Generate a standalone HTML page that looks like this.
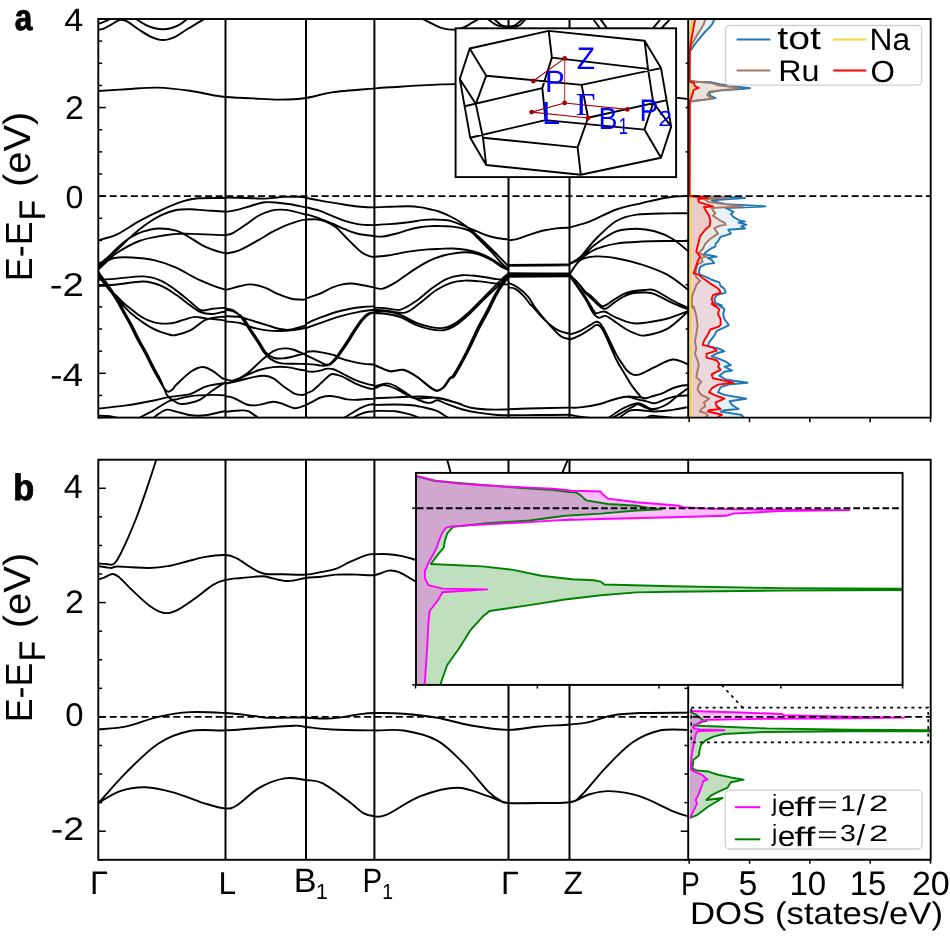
<!DOCTYPE html>
<html><head><meta charset="utf-8"><style>
html,body{margin:0;padding:0;background:#fff;}
svg{display:block;will-change:transform;}
text{text-rendering:geometricPrecision;}
</style></head><body>
<svg width="950" height="936" viewBox="0 0 950 936">
<defs>
<clipPath id="clipA"><rect x="98.3" y="19.0" width="589.9000000000001" height="398.6"/></clipPath>
<clipPath id="clipB"><rect x="98.3" y="459.7" width="589.9000000000001" height="400.09999999999997"/></clipPath>
<clipPath id="clipDA"><rect x="689.0" y="19.0" width="241.7" height="398.6"/></clipPath>
<clipPath id="clipDB"><rect x="689.0" y="459.7" width="241.7" height="400.09999999999997"/></clipPath>
</defs>
<rect width="950" height="936" fill="#fff"/>
<g id="bands_a" clip-path="url(#clipA)"><defs><clipPath id="as0"><rect x="98.00" y="19.0" width="127.80" height="398.6"/></clipPath><clipPath id="as1"><rect x="225.20" y="19.0" width="81.10" height="398.6"/></clipPath><clipPath id="as2"><rect x="305.70" y="19.0" width="69.00" height="398.6"/></clipPath><clipPath id="as3"><rect x="374.10" y="19.0" width="134.70" height="398.6"/></clipPath><clipPath id="as4"><rect x="508.20" y="19.0" width="61.60" height="398.6"/></clipPath><clipPath id="as5"><rect x="569.20" y="19.0" width="119.30" height="398.6"/></clipPath></defs><path fill="none" stroke="#000" stroke-width="1.9" d="M97.95,24.14 C98.93,23.77 101.88,22.76 103.84,21.93 C105.81,21.09 108.75,19.59 109.74,19.13 M97.95,29.74 C98.93,29.54 101.63,29.42 103.84,28.56 C106.05,27.70 109.00,25.81 111.21,24.58 C113.42,23.35 115.43,21.98 117.10,21.19 C118.77,20.40 119.51,19.79 121.23,19.86 C122.95,19.94 124.42,19.99 127.42,21.63 C130.42,23.28 135.28,27.21 139.21,29.74 C143.14,32.27 147.07,35.09 151.00,36.81 C154.93,38.53 158.86,40.00 162.79,40.05 C166.72,40.10 170.65,38.82 174.58,37.10 C178.51,35.39 182.43,32.14 186.36,29.74 C190.29,27.33 195.08,24.50 198.15,22.66 C201.22,20.82 203.68,19.35 204.78,18.68 M134.79,18.24 C136.51,19.30 141.91,22.96 145.10,24.58 C148.30,26.20 151.00,27.18 153.94,27.97 C156.89,28.75 159.84,29.29 162.79,29.29 C165.73,29.29 168.68,28.83 171.63,27.97 C174.58,27.11 177.77,25.76 180.47,24.14 C183.17,22.52 186.61,19.22 187.84,18.24 M96.58,91.10 C101.58,90.79 116.32,89.79 126.58,89.21 C136.84,88.63 147.63,87.37 158.16,87.63 C168.68,87.89 179.21,89.32 189.74,90.79 C200.26,92.26 210.79,95.21 221.31,96.47 C231.84,97.74 243.16,97.84 252.89,98.37 C262.63,98.89 270.89,99.68 279.73,99.63 C288.58,99.58 297.26,99.26 305.95,98.05 C314.63,96.84 320.68,93.95 331.84,92.37 C343.00,90.79 362.37,89.47 372.89,88.58 C383.42,87.68 386.05,87.58 395.00,87.00 C403.94,86.42 416.05,85.58 426.58,85.10 C437.10,84.63 447.63,84.32 458.15,84.16 C468.68,84.00 471.31,83.68 489.73,84.16 C508.15,84.63 539.73,84.95 568.68,87.00 C597.63,89.05 643.36,94.47 663.42,96.47 C683.47,98.47 684.73,98.58 688.99,99.00 M417.68,16.47 C418.67,16.96 420.39,17.82 423.58,19.42 C426.77,21.02 433.40,24.53 436.84,26.05 C440.28,27.57 441.75,27.97 444.21,28.56 C446.66,29.15 449.12,29.52 451.58,29.59 C454.03,29.66 456.73,29.47 458.94,29.00 C461.16,28.53 462.63,27.85 464.84,26.79 C467.05,25.73 470.00,23.89 472.21,22.66 C474.42,21.43 476.38,20.33 478.10,19.42 C479.82,18.51 481.79,17.58 482.52,17.21 M484.00,16.47 C484.73,16.96 486.21,17.95 488.42,19.42 C490.63,20.89 493.92,24.04 497.26,25.32 C500.60,26.59 504.77,27.08 508.46,27.08 C512.14,27.08 516.56,26.59 519.36,25.32 C522.16,24.04 523.54,20.89 525.26,19.42 C526.98,17.95 528.94,16.96 529.68,16.47 M489.89,16.47 C490.63,16.96 492.35,17.95 494.31,19.42 C496.28,20.89 499.32,24.14 501.68,25.32 C504.04,26.49 506.25,26.49 508.46,26.49 C510.67,26.49 512.63,26.49 514.94,25.32 C517.25,24.14 520.35,20.89 522.31,19.42 C524.28,17.95 525.99,16.96 526.73,16.47 M590.53,15.00 C591.06,15.79 592.24,17.68 593.69,19.74 C595.13,21.79 597.63,24.95 599.21,27.32 C600.79,29.68 602.50,32.84 603.16,33.95 M597.63,15.00 C598.16,15.79 599.35,17.68 600.79,19.74 C602.24,21.79 604.74,24.95 606.32,27.32 C607.90,29.68 609.61,32.84 610.27,33.95 M663.16,15.00 C662.64,15.79 661.59,17.68 660.01,19.74 C658.43,21.79 655.53,24.95 653.69,27.32 C651.85,29.68 649.74,32.84 648.95,33.95 M672.64,15.00 C672.11,15.79 671.19,17.68 669.48,19.74 C667.77,21.79 664.35,24.95 662.37,27.32 C660.40,29.68 658.43,32.84 657.64,33.95"/><path clip-path="url(#as0)" fill="none" stroke="#000" stroke-width="1.9" d="M97.95,240.26 C101.14,239.28 110.23,237.56 117.10,234.37 C123.98,231.17 131.84,225.16 139.21,221.10 C146.58,217.05 153.94,213.37 161.31,210.05 C168.68,206.74 177.28,203.17 183.42,201.21 C189.56,199.25 191.15,198.80 198.15,198.26 C205.15,197.72 219.28,198.02 225.42,197.97 C231.56,197.92 233.40,197.97 234.99,197.97 M98.24,265.31 C100.16,263.72 106.59,258.31 109.74,255.73 C112.88,253.16 113.42,253.16 117.10,249.84 C120.79,246.52 126.93,240.14 131.84,235.84 C136.75,231.54 141.66,227.49 146.58,224.05 C151.49,220.61 156.40,217.54 161.31,215.21 C166.23,212.88 171.14,211.03 176.05,210.05 C180.96,209.07 185.87,209.27 190.79,209.31 C195.70,209.36 199.75,209.98 205.52,210.35 C211.29,210.71 220.50,211.57 225.42,211.53 C230.33,211.48 233.40,210.30 234.99,210.05 M98.24,266.05 C100.16,264.28 106.10,258.88 109.74,255.44 C113.37,252.00 116.37,248.56 120.05,245.42 C123.74,242.27 127.91,238.91 131.84,236.58 C135.77,234.24 139.21,232.77 143.63,231.42 C148.05,230.07 152.96,228.59 158.37,228.47 C163.77,228.35 170.65,229.09 176.05,230.68 C181.45,232.28 185.87,235.35 190.79,238.05 C195.70,240.75 199.75,244.39 205.52,246.89 C211.29,249.40 220.50,252.47 225.42,253.08 C230.33,253.70 233.40,250.99 234.99,250.58 M98.24,267.52 C101.39,265.07 110.28,257.21 117.10,252.79 C123.93,248.37 131.84,243.82 139.21,241.00 C146.58,238.17 153.94,237.07 161.31,235.84 C168.68,234.61 172.73,233.75 183.42,233.63 C194.10,233.51 216.82,235.35 225.42,235.10 C234.01,234.86 233.40,232.65 234.99,232.16 M98.24,269.73 C99.67,268.38 104.14,263.59 106.79,261.63 C109.44,259.66 109.98,258.63 114.16,257.94 C118.33,257.26 125.21,257.13 131.84,257.50 C138.47,257.87 146.58,258.48 153.94,260.15 C161.31,261.82 168.68,264.33 176.05,267.52 C183.42,270.72 189.93,275.63 198.15,279.31 C206.38,283.00 219.28,288.15 225.42,289.63 C231.56,291.10 233.40,288.40 234.99,288.15 M98.24,279.76 C101.39,279.56 109.54,279.14 117.10,278.58 C124.67,278.01 136.26,276.00 143.63,276.37 C151.00,276.74 155.91,278.46 161.31,280.79 C166.72,283.12 171.14,286.81 176.05,290.37 C180.96,293.93 186.61,298.84 190.79,302.16 C194.96,305.47 197.42,309.16 201.10,310.26 C204.78,311.37 208.84,309.16 212.89,308.79 C216.94,308.42 221.73,307.44 225.42,308.05 C229.10,308.66 233.40,311.73 234.99,312.47 M98.24,285.95 C101.39,285.70 109.54,285.21 117.10,284.47 C124.67,283.74 136.26,281.28 143.63,281.53 C151.00,281.77 155.91,283.74 161.31,285.95 C166.72,288.16 171.14,291.47 176.05,294.79 C180.96,298.10 186.61,302.89 190.79,305.84 C194.96,308.79 197.42,311.12 201.10,312.47 C204.78,313.82 208.84,314.07 212.89,313.94 C216.94,313.82 221.73,311.49 225.42,311.73 C229.10,311.98 233.40,314.80 234.99,315.42 M98.30,273.40 C100.15,275.97 106.35,285.03 109.40,288.80 C112.45,292.57 114.20,293.60 116.60,296.00 C119.00,298.40 121.40,301.03 123.80,303.20 C126.20,305.37 128.60,307.08 131.00,309.00 C133.40,310.92 135.80,313.03 138.20,314.70 C140.60,316.37 143.00,317.80 145.40,319.00 C147.80,320.20 150.20,321.17 152.60,321.90 C155.00,322.63 157.40,323.12 159.80,323.40 C162.20,323.68 164.47,323.73 167.00,323.60 C169.53,323.47 172.26,323.23 175.00,322.60 C177.74,321.97 180.05,320.79 183.42,319.84 C186.79,318.89 191.52,317.14 195.21,316.89 C198.89,316.65 200.49,317.75 205.52,318.37 C210.56,318.98 220.50,319.84 225.42,320.58 C230.33,321.31 233.40,322.42 234.99,322.79 M98.30,275.80 C100.15,278.20 106.35,286.48 109.40,290.20 C112.45,293.92 114.20,295.45 116.60,298.10 C119.00,300.75 121.40,303.57 123.80,306.10 C126.20,308.63 128.60,311.15 131.00,313.30 C133.40,315.45 135.80,317.20 138.20,319.00 C140.60,320.80 143.00,322.53 145.40,324.10 C147.80,325.67 150.20,327.15 152.60,328.40 C155.00,329.65 157.40,330.68 159.80,331.60 C162.20,332.52 164.47,333.30 167.00,333.90 C169.53,334.50 171.04,335.82 175.00,335.20 C178.96,334.58 185.70,332.71 190.79,330.15 C195.87,327.59 200.61,322.05 205.52,319.84 C210.43,317.63 216.94,317.38 220.26,316.89 C223.57,316.40 222.96,316.89 225.42,316.89 C227.87,316.89 233.40,316.89 234.99,316.89 M98.30,271.50 C99.85,274.02 104.63,281.92 107.60,286.60 C110.57,291.28 113.48,295.27 116.10,299.60 C118.72,303.93 120.90,308.28 123.30,312.60 C125.70,316.92 128.10,320.93 130.50,325.50 C132.90,330.07 135.30,335.43 137.70,340.00 C140.10,344.57 142.50,348.35 144.90,352.90 C147.30,357.45 149.70,362.73 152.10,367.30 C154.50,371.87 157.45,377.05 159.30,380.30 C161.15,383.55 162.10,385.12 163.20,386.80 C164.30,388.48 165.02,389.57 165.90,390.40 C166.78,391.23 167.62,391.77 168.50,391.80 C169.38,391.83 170.32,391.23 171.20,390.60 C172.08,389.97 172.99,388.92 173.80,388.00 C174.61,387.08 173.22,387.75 176.05,385.05 C178.88,382.35 186.36,374.79 190.79,371.79 C195.21,368.79 198.89,367.20 202.57,367.07 C206.26,366.95 209.21,369.04 212.89,371.05 C216.57,373.07 220.99,378.05 224.68,379.16 C228.36,380.26 233.27,377.93 234.99,377.68 M98.30,272.30 C100.12,274.68 105.97,282.05 109.20,286.60 C112.43,291.15 115.08,295.27 117.70,299.60 C120.32,303.93 122.50,308.28 124.90,312.60 C127.30,316.92 129.70,320.93 132.10,325.50 C134.50,330.07 136.90,335.43 139.30,340.00 C141.70,344.57 144.10,348.35 146.50,352.90 C148.90,357.45 151.33,362.73 153.70,367.30 C156.07,371.87 158.45,375.62 160.70,380.30 C162.95,384.98 164.89,391.87 167.21,395.37 C169.52,398.86 172.37,399.84 174.58,401.26 C176.79,402.69 177.77,403.67 180.47,403.91 C183.17,404.16 187.35,403.55 190.79,402.74 C194.22,401.92 197.42,401.14 201.10,399.05 C204.78,396.96 208.96,392.91 212.89,390.21 C216.82,387.51 220.99,384.68 224.68,382.84 C228.36,381.00 233.27,379.77 234.99,379.16 M98.24,408.63 C102.61,408.14 115.19,407.03 124.47,405.68 C133.76,404.33 147.07,401.88 153.94,400.52 C160.82,399.17 162.05,398.31 165.73,397.58 C169.42,396.84 171.87,396.72 176.05,396.10 C180.22,395.49 185.87,395.49 190.79,393.89 C195.70,392.30 200.61,388.24 205.52,386.53 C210.43,384.81 215.35,384.44 220.26,383.58 C225.17,382.72 232.54,381.74 234.99,381.37 M139.21,417.77 C141.66,416.49 149.03,412.85 153.94,410.10 C158.86,407.35 164.75,403.10 168.68,401.26 C172.61,399.42 175.07,399.66 177.52,399.05 C179.98,398.44 179.98,398.19 183.42,397.58 C186.86,396.96 191.28,395.74 198.15,395.37 C205.03,395.00 218.54,394.63 224.68,395.37 C230.82,396.10 233.27,399.05 234.99,399.79 M153.21,417.77 C155.30,416.44 161.93,410.84 165.73,409.81 C169.54,408.78 171.87,410.67 176.05,411.58 C180.22,412.49 185.87,414.65 190.79,415.26 C195.70,415.87 199.87,415.92 205.52,415.26 C211.17,414.60 219.77,412.02 224.68,411.28 C229.59,410.55 233.27,410.91 234.99,410.84 M98.24,415.70 C100.16,415.80 106.59,415.95 109.74,416.29 C112.88,416.64 115.88,417.52 117.10,417.77"/><path clip-path="url(#as1)" fill="none" stroke="#000" stroke-width="1.9" d="M220.00,197.31 C220.90,197.33 221.11,197.33 225.38,197.44 C229.66,197.54 239.06,197.76 245.64,197.95 C252.22,198.14 260.17,198.61 264.87,198.59 C269.57,198.57 270.64,198.10 273.85,197.82 C277.05,197.54 280.26,197.09 284.10,196.92 C287.95,196.75 293.29,196.69 296.92,196.79 C300.56,196.90 302.05,196.86 305.90,197.56 C309.74,198.27 317.65,200.45 320.00,201.03 M220.00,211.92 C220.90,211.92 222.18,212.35 225.38,211.92 C228.59,211.50 234.79,210.43 239.23,209.36 C243.68,208.29 247.78,206.69 252.05,205.51 C256.32,204.34 260.60,202.78 264.87,202.31 C269.15,201.84 273.42,202.37 277.69,202.69 C281.97,203.01 285.81,203.44 290.51,204.23 C295.21,205.02 300.98,206.47 305.90,207.44 C310.81,208.40 317.65,209.57 320.00,210.00 M220.00,235.00 C220.90,235.00 223.25,235.32 225.38,235.00 C227.52,234.68 229.44,234.79 232.82,233.08 C236.20,231.37 241.37,227.63 245.64,224.74 C249.91,221.86 254.19,218.12 258.46,215.77 C262.74,213.42 267.65,211.67 271.28,210.64 C274.91,209.62 277.05,209.62 280.26,209.62 C283.46,209.62 286.24,209.79 290.51,210.64 C294.79,211.50 300.98,213.35 305.90,214.74 C310.81,216.13 317.65,218.27 320.00,218.97 M220.00,253.59 C220.90,253.59 222.18,254.12 225.38,253.59 C228.59,253.06 233.72,252.63 239.23,250.38 C244.74,248.14 253.12,243.12 258.46,240.13 C263.80,237.14 267.01,234.79 271.28,232.44 C275.56,230.09 279.83,227.84 284.10,226.03 C288.38,224.21 293.29,222.61 296.92,221.54 C300.56,220.47 302.05,219.72 305.90,219.62 C309.74,219.51 317.65,220.68 320.00,220.90 M220.00,289.49 C220.90,289.55 222.18,290.41 225.38,289.87 C228.59,289.34 235.00,287.20 239.23,286.28 C243.46,285.36 246.50,284.15 250.77,284.36 C255.04,284.57 260.38,285.96 264.87,287.56 C269.36,289.17 273.42,292.16 277.69,293.97 C281.97,295.79 286.88,297.54 290.51,298.46 C294.15,299.38 296.92,299.38 299.49,299.49 C302.05,299.59 302.48,300.24 305.90,299.10 C309.32,297.97 317.65,293.76 320.00,292.69 M225.34,308.35 C226.68,308.68 230.68,308.80 233.35,310.35 C236.02,311.91 238.69,314.47 241.36,317.70 C244.03,320.92 246.70,325.71 249.37,329.71 C252.04,333.72 254.94,337.95 257.38,341.73 C259.83,345.51 261.83,349.52 264.06,352.41 C266.28,355.30 268.06,357.31 270.73,359.09 C273.40,360.87 276.30,362.31 280.08,363.09 C283.86,363.87 289.09,363.60 293.43,363.76 C297.77,363.91 301.69,363.91 306.11,364.03 C310.54,364.14 317.69,364.36 320.00,364.43 M225.34,309.95 C226.68,310.18 230.41,310.00 233.35,311.29 C236.29,312.58 240.03,314.63 242.96,317.70 C245.90,320.77 248.30,325.71 250.97,329.71 C253.64,333.72 256.54,337.95 258.99,341.73 C261.43,345.51 263.26,349.74 265.66,352.41 C268.06,355.08 270.56,356.75 273.40,357.75 C276.25,358.75 279.41,358.64 282.75,358.42 C286.09,358.20 289.54,357.31 293.43,356.42 C297.33,355.53 301.69,353.86 306.11,353.08 C310.54,352.30 317.69,351.96 320.00,351.74 M225.34,316.09 C227.79,316.25 235.35,316.21 240.03,317.03 C244.70,317.85 248.93,319.70 253.38,321.03 C257.83,322.37 262.28,323.70 266.73,325.04 C271.18,326.38 276.30,328.27 280.08,329.05 C283.86,329.82 286.09,330.05 289.43,329.71 C292.76,329.38 297.33,327.82 300.11,327.04 C302.89,326.26 302.80,326.38 306.11,325.04 C309.43,323.70 317.69,320.03 320.00,319.03 M225.34,321.44 C227.79,321.70 235.35,321.99 240.03,323.04 C244.70,324.08 248.93,326.49 253.38,327.71 C257.83,328.93 262.28,329.82 266.73,330.38 C271.18,330.94 275.63,331.11 280.08,331.05 C284.53,330.98 289.09,330.54 293.43,329.98 C297.77,329.42 301.69,328.76 306.11,327.71 C310.54,326.66 317.69,324.37 320.00,323.70 M225.34,379.11 C226.68,379.33 229.79,381.34 233.35,380.45 C236.91,379.56 242.25,376.89 246.70,373.77 C251.15,370.66 255.60,365.54 260.05,361.76 C264.50,357.97 269.40,353.30 273.40,351.07 C277.41,348.85 280.75,348.63 284.09,348.40 C287.42,348.18 289.76,348.63 293.43,349.74 C297.10,350.85 301.69,353.08 306.11,355.08 C310.54,357.08 317.69,360.64 320.00,361.76 M225.34,383.12 C226.68,382.89 229.79,383.12 233.35,381.78 C236.91,380.45 242.25,377.11 246.70,375.11 C251.15,373.10 255.60,371.10 260.05,369.77 C264.50,368.43 268.95,367.54 273.40,367.10 C277.85,366.65 282.31,366.65 286.76,367.10 C291.21,367.54 296.88,369.21 300.11,369.77 C303.33,370.32 303.89,370.10 306.11,370.43 C308.34,370.77 311.14,371.77 313.46,371.77 C315.77,371.77 318.91,370.66 320.00,370.43 M225.34,383.79 C227.79,383.23 235.35,381.56 240.03,380.45 C244.70,379.33 249.37,377.89 253.38,377.11 C257.38,376.33 260.72,375.55 264.06,375.77 C267.40,376.00 270.29,376.78 273.40,378.44 C276.52,380.11 279.41,383.34 282.75,385.79 C286.09,388.24 290.54,391.62 293.43,393.13 C296.32,394.64 297.99,394.76 300.11,394.87 C302.22,394.98 302.80,395.31 306.11,393.80 C309.43,392.29 317.69,387.12 320.00,385.79 M225.34,396.20 C226.68,396.47 229.79,396.42 233.35,397.80 C236.91,399.18 242.70,403.26 246.70,404.48 C250.71,405.70 252.93,405.59 257.38,405.15 C261.83,404.70 268.95,401.92 273.40,401.81 C277.85,401.70 280.53,403.41 284.09,404.48 C287.65,405.55 291.09,408.11 294.77,408.22 C298.44,408.33 301.91,406.88 306.11,405.15 C310.32,403.41 317.69,399.03 320.00,397.80 M225.34,411.82 C227.79,411.60 236.24,410.60 240.03,410.49 C243.81,410.38 245.14,410.04 248.04,411.15 C250.93,412.27 255.83,416.16 257.38,417.16"/><path clip-path="url(#as2)" fill="none" stroke="#000" stroke-width="1.9" d="M305.90,197.82 C308.12,198.25 313.80,199.42 319.23,200.38 C324.66,201.35 332.05,202.56 338.46,203.59 C344.87,204.62 351.71,205.90 357.69,206.54 C363.68,207.18 370.64,207.29 374.36,207.44 C378.08,207.59 379.06,207.44 380.00,207.44 M305.90,207.05 C308.12,207.65 314.87,209.19 319.23,210.64 C323.59,212.09 327.78,214.06 332.05,215.77 C336.32,217.48 340.60,219.51 344.87,220.90 C349.15,222.29 354.06,223.42 357.69,224.10 C361.32,224.79 363.89,224.83 366.67,225.00 C369.44,225.17 372.14,225.13 374.36,225.13 C376.58,225.13 379.06,225.02 380.00,225.00 M305.90,214.23 C308.12,214.91 314.87,216.79 319.23,218.33 C323.59,219.87 327.78,221.65 332.05,223.46 C336.32,225.28 340.60,227.52 344.87,229.23 C349.15,230.94 352.78,232.59 357.69,233.72 C362.61,234.85 370.64,235.60 374.36,236.03 C378.08,236.45 379.06,236.24 380.00,236.28 M305.90,219.62 C307.48,219.57 312.09,219.04 315.38,219.36 C318.68,219.68 322.22,220.21 325.64,221.54 C329.06,222.86 332.69,224.85 335.90,227.31 C339.10,229.76 341.88,233.29 344.87,236.28 C347.86,239.27 351.07,242.59 353.85,245.26 C356.62,247.93 358.97,250.49 361.54,252.31 C364.10,254.12 367.09,255.36 369.23,256.15 C371.37,256.94 372.56,256.94 374.36,257.05 C376.15,257.16 379.06,256.84 380.00,256.79 M305.90,298.46 C308.12,297.71 314.87,295.79 319.23,293.97 C323.59,292.16 328.21,289.17 332.05,287.56 C335.90,285.96 339.10,285.04 342.31,284.36 C345.51,283.68 348.08,283.35 351.28,283.46 C354.49,283.57 357.69,284.32 361.54,285.00 C365.38,285.68 371.28,286.97 374.36,287.56 C377.44,288.16 379.06,288.42 380.00,288.59 M305.87,323.70 C308.23,322.70 314.33,319.81 320.03,317.70 C325.72,315.58 333.38,312.76 340.05,311.02 C346.73,309.29 354.36,308.06 360.08,307.28 C365.80,306.50 371.05,306.39 374.37,306.35 C377.68,306.30 379.04,306.90 379.97,307.02 M305.87,328.11 C308.23,327.27 314.33,325.00 320.03,323.04 C325.72,321.08 333.38,318.25 340.05,316.36 C346.73,314.47 354.36,312.80 360.08,311.69 C365.80,310.58 371.05,309.91 374.37,309.69 C377.68,309.46 379.04,310.24 379.97,310.35 M306.15,351.97 C307.26,351.85 310.28,351.21 312.82,351.28 C315.36,351.35 317.81,351.74 321.37,352.39 C324.93,353.05 331.34,354.36 334.19,355.21 C337.04,356.07 335.61,356.50 338.46,357.52 C341.31,358.55 347.01,360.30 351.28,361.37 C355.56,362.44 360.19,363.36 364.10,363.93 C368.02,364.50 372.14,364.07 374.79,364.79 C377.44,365.50 379.13,367.64 380.00,368.21 M306.15,355.38 C307.26,355.88 310.28,357.17 312.82,358.38 C315.36,359.59 319.23,361.61 321.37,362.65 C323.50,363.69 324.22,364.43 325.64,364.62 C327.07,364.80 328.49,364.59 329.91,363.76 C331.34,362.93 332.76,361.27 334.19,359.66 C335.61,358.05 336.81,356.42 338.46,354.10 C340.11,351.78 342.54,348.08 344.10,345.73 C345.67,343.38 346.31,342.45 347.86,340.00 C349.42,337.55 351.17,334.40 353.42,331.03 C355.67,327.65 358.92,322.64 361.37,319.74 C363.82,316.85 365.95,314.94 368.12,313.68 C370.28,312.41 372.38,312.46 374.36,312.14 C376.34,311.81 379.06,311.78 380.00,311.71 M306.15,364.10 C307.26,364.15 310.28,364.10 312.82,364.36 C315.36,364.62 319.23,365.43 321.37,365.64 C323.50,365.85 324.15,365.85 325.64,365.64 C327.14,365.43 328.75,365.27 330.34,364.36 C331.94,363.45 333.69,361.78 335.21,360.17 C336.74,358.56 337.78,357.02 339.49,354.70 C341.20,352.38 343.85,348.60 345.47,346.24 C347.09,343.87 347.68,342.96 349.23,340.51 C350.78,338.06 352.56,334.91 354.79,331.54 C357.01,328.16 360.21,323.15 362.56,320.26 C364.91,317.36 366.87,315.46 368.89,314.19 C370.91,312.92 372.85,312.98 374.70,312.65 C376.55,312.32 379.12,312.29 380.00,312.22 M306.15,371.20 C307.26,371.30 310.28,371.94 312.82,371.79 C315.36,371.65 318.95,370.87 321.37,370.34 C323.79,369.81 325.21,368.77 327.35,368.63 C329.49,368.49 331.62,368.63 334.19,369.49 C336.75,370.34 339.17,371.98 342.74,373.76 C346.30,375.54 351.28,378.39 355.56,380.17 C359.83,381.95 365.17,383.59 368.38,384.44 C371.58,385.30 372.85,385.16 374.79,385.30 C376.72,385.44 379.13,385.30 380.00,385.30 M306.15,393.42 C307.26,392.92 310.28,392.21 312.82,390.43 C315.36,388.65 318.52,385.30 321.37,382.74 C324.22,380.17 327.78,376.47 329.91,375.04 C332.05,373.62 332.05,373.90 334.19,374.19 C336.32,374.47 339.17,375.19 342.74,376.75 C346.30,378.32 351.28,381.67 355.56,383.59 C359.83,385.51 365.17,387.44 368.38,388.29 C371.58,389.15 372.85,389.07 374.79,388.72 C376.72,388.36 379.13,386.58 380.00,386.15 M306.15,404.96 C307.26,404.39 310.28,402.82 312.82,401.54 C315.36,400.26 318.52,398.19 321.37,397.26 C324.22,396.34 327.07,395.98 329.91,395.98 C332.76,395.98 335.61,396.70 338.46,397.26 C341.31,397.83 344.16,398.97 347.01,399.40 C349.86,399.83 351.99,399.90 355.56,399.83 C359.12,399.76 365.17,399.15 368.38,398.97 C371.58,398.80 372.85,398.95 374.79,398.80 C376.72,398.66 379.13,398.23 380.00,398.12 M344.44,417.78 C345.58,417.07 348.72,415.07 351.28,413.50 C353.85,411.94 356.98,409.80 359.83,408.38 C362.68,406.95 365.88,405.67 368.38,404.96 C370.87,404.25 372.85,404.27 374.79,404.10 C376.72,403.93 379.13,403.96 380.00,403.93 M352.99,417.78 C354.13,417.21 357.26,415.36 359.83,414.36 C362.39,413.36 365.88,412.29 368.38,411.79 C370.87,411.30 372.85,411.44 374.79,411.37 C376.72,411.30 379.13,411.37 380.00,411.37"/><path clip-path="url(#as3)" fill="none" stroke="#000" stroke-width="1.9" d="M374.60,207.40 C377.03,207.30 383.55,207.00 389.20,206.80 C394.85,206.60 403.15,206.10 408.50,206.20 C413.85,206.30 417.72,206.88 421.30,207.40 C424.88,207.92 427.07,208.62 430.00,209.30 C432.93,209.98 435.48,210.30 438.90,211.50 C442.32,212.70 446.63,214.55 450.50,216.50 C454.37,218.45 458.23,220.53 462.10,223.20 C465.97,225.87 469.83,229.22 473.70,232.50 C477.57,235.78 481.43,239.23 485.30,242.90 C489.17,246.57 492.98,250.57 496.90,254.50 C500.82,258.43 506.82,264.50 508.80,266.50 M374.60,225.00 C377.03,224.85 383.55,224.57 389.20,224.10 C394.85,223.63 402.73,222.90 408.50,222.20 C414.27,221.50 419.53,220.35 423.80,219.90 C428.07,219.45 431.07,219.50 434.10,219.50 C437.13,219.50 439.27,219.67 442.00,219.90 C444.73,220.13 447.15,220.02 450.50,220.90 C453.85,221.78 458.23,223.68 462.10,225.20 C465.97,226.72 469.83,228.40 473.70,230.00 C477.57,231.60 481.43,233.47 485.30,234.80 C489.17,236.13 492.98,237.22 496.90,238.00 C500.82,238.78 506.82,239.25 508.80,239.50 M374.62,236.28 C375.98,236.32 379.32,236.97 382.82,236.54 C386.32,236.11 391.37,234.83 395.64,233.72 C399.91,232.61 404.19,230.98 408.46,229.87 C412.74,228.76 417.01,227.69 421.28,227.05 C425.56,226.41 430.26,226.15 434.10,226.03 C437.95,225.90 441.24,226.18 444.36,226.28 C447.48,226.39 449.27,226.18 452.82,226.67 C456.37,227.16 462.44,228.27 465.64,229.23 C468.85,230.19 469.91,230.83 472.05,232.44 C474.19,234.04 475.26,235.64 478.46,238.85 C481.67,242.05 487.44,247.61 491.28,251.67 C495.13,255.73 498.61,260.21 501.54,263.21 C504.47,266.20 507.63,268.55 508.85,269.62 M374.62,256.79 C377.05,256.54 383.59,256.11 389.23,255.26 C394.87,254.40 402.05,252.65 408.46,251.67 C414.87,250.68 422.35,249.83 427.69,249.36 C433.03,248.89 436.32,249.00 440.51,248.85 C444.70,248.70 448.63,248.31 452.82,248.46 C457.01,248.61 461.37,249.00 465.64,249.74 C469.91,250.49 474.19,251.45 478.46,252.95 C482.74,254.44 487.44,256.58 491.28,258.72 C495.13,260.85 498.61,263.91 501.54,265.77 C504.47,267.63 507.63,269.19 508.85,269.87 M374.62,287.82 C375.98,287.95 379.32,289.49 382.82,288.59 C386.32,287.69 391.37,284.96 395.64,282.44 C399.91,279.91 404.19,276.35 408.46,273.46 C412.74,270.58 417.01,267.59 421.28,265.13 C425.56,262.67 430.26,260.36 434.10,258.72 C437.95,257.07 441.24,256.11 444.36,255.26 C447.48,254.40 449.27,254.08 452.82,253.59 C456.37,253.10 461.37,252.20 465.64,252.31 C469.91,252.41 474.19,252.95 478.46,254.23 C482.74,255.51 487.44,257.86 491.28,260.00 C495.13,262.14 498.61,265.34 501.54,267.05 C504.47,268.76 507.63,269.72 508.85,270.26 M370.00,308.08 C370.76,308.00 372.04,307.62 374.58,307.62 C377.12,307.62 380.94,307.75 385.26,308.08 C389.59,308.41 395.44,310.75 400.53,309.60 C405.61,308.46 410.70,304.64 415.79,301.21 C420.88,297.77 425.96,292.69 431.05,289.00 C436.14,285.31 441.23,281.37 446.31,279.08 C451.40,276.79 456.49,275.77 461.58,275.26 C466.66,274.75 470.99,275.39 476.84,276.03 C482.69,276.66 492.35,278.49 496.68,279.08 C501.00,279.66 500.75,279.46 502.78,279.54 C504.82,279.61 507.87,279.54 508.89,279.54 M370.00,310.37 C370.76,310.32 372.04,310.06 374.58,310.06 C377.12,310.06 380.18,309.93 385.26,310.37 C390.35,310.80 399.25,313.93 405.10,312.66 C410.95,311.38 415.28,306.42 420.37,302.74 C425.45,299.05 430.54,293.83 435.63,290.53 C440.72,287.22 446.06,284.55 450.89,282.89 C455.72,281.24 459.79,280.86 464.63,280.60 C469.46,280.35 474.55,280.86 479.89,281.37 C485.23,281.88 492.86,283.20 496.68,283.66 C500.49,284.11 500.75,283.99 502.78,284.11 C504.82,284.24 507.87,284.37 508.89,284.42 M370.00,312.66 C370.76,312.53 372.04,312.10 374.58,311.89 C377.12,311.69 380.94,310.93 385.26,311.43 C389.59,311.94 395.44,313.09 400.53,314.95 C405.61,316.80 410.70,320.54 415.79,322.58 C420.88,324.61 426.47,326.26 431.05,327.16 C435.63,328.05 439.44,328.43 443.26,327.92 C447.08,327.41 449.62,326.77 453.94,324.10 C458.27,321.43 464.12,316.47 469.21,311.89 C474.29,307.31 479.89,301.21 484.47,296.63 C489.05,292.05 493.37,287.73 496.68,284.42 C499.99,281.11 502.28,278.70 504.31,276.79 C506.35,274.88 508.13,273.61 508.89,272.97 M370.00,314.18 C370.76,314.05 372.04,313.50 374.58,313.42 C377.12,313.34 380.94,313.09 385.26,313.72 C389.59,314.36 395.44,315.38 400.53,317.23 C405.61,319.09 410.70,322.83 415.79,324.87 C420.88,326.90 426.47,328.55 431.05,329.44 C435.63,330.33 439.44,330.72 443.26,330.21 C447.08,329.70 449.62,329.06 453.94,326.39 C458.27,323.72 464.12,318.76 469.21,314.18 C474.29,309.60 479.64,303.63 484.47,298.92 C489.30,294.21 494.64,289.51 498.21,285.95 C501.77,282.39 504.06,279.46 505.84,277.55 C507.62,275.64 508.38,275.01 508.89,274.50 M374.81,365.09 C377.34,366.09 385.26,370.32 390.03,371.10 C394.79,371.88 398.93,368.88 403.38,369.77 C407.83,370.66 412.28,373.55 416.73,376.44 C421.18,379.33 426.74,384.79 430.08,387.12 C433.42,389.46 434.53,390.46 436.76,390.46 C438.98,390.46 441.23,389.24 443.43,387.12 C445.63,385.01 448.32,379.78 449.97,377.78 C451.63,375.77 450.56,379.56 453.35,375.11 C456.14,370.66 462.70,358.86 466.70,351.07 C470.71,343.29 474.05,335.05 477.38,328.38 C480.72,321.70 483.84,316.58 486.73,311.02 C489.62,305.46 492.29,299.45 494.74,295.00 C497.19,290.55 499.08,287.43 501.42,284.32 C503.75,281.20 507.53,277.64 508.76,276.31 M374.81,365.36 C377.34,366.36 385.26,370.59 390.03,371.37 C394.79,372.15 398.93,369.14 403.38,370.03 C407.83,370.92 412.28,373.79 416.73,376.71 C421.18,379.62 426.74,385.14 430.08,387.52 C433.42,389.90 434.49,390.97 436.76,390.99 C439.03,391.02 441.43,389.77 443.70,387.66 C445.97,385.54 448.54,380.31 450.37,378.31 C452.21,376.31 451.74,380.09 454.69,375.64 C457.63,371.19 463.99,359.40 468.04,351.61 C472.09,343.82 475.60,335.59 478.99,328.91 C482.37,322.24 485.46,317.12 488.33,311.56 C491.20,305.99 493.83,299.98 496.21,295.53 C498.59,291.08 500.53,287.97 502.62,284.85 C504.71,281.74 507.73,278.18 508.76,276.84 M370.00,386.00 C370.75,386.08 371.70,386.93 374.50,386.50 C377.30,386.07 383.33,383.48 386.80,383.40 C390.27,383.32 391.08,383.75 395.30,386.00 C399.52,388.25 407.33,394.23 412.10,396.90 C416.87,399.57 420.82,401.02 423.90,402.00 C426.98,402.98 428.35,403.08 430.60,402.80 C432.85,402.52 434.87,400.17 437.40,400.30 C439.93,400.43 441.60,402.07 445.80,403.60 C450.00,405.13 456.98,407.95 462.60,409.50 C468.22,411.05 474.10,412.02 479.50,412.90 C484.90,413.78 490.10,414.38 495.00,414.80 C499.90,415.22 506.58,415.30 508.90,415.40 M370.00,388.50 C370.75,388.50 372.25,389.07 374.50,388.50 C376.75,387.93 380.03,385.10 383.50,385.10 C386.97,385.10 390.53,386.40 395.30,388.50 C400.07,390.60 407.90,396.02 412.10,397.70 C416.30,399.38 416.28,398.60 420.50,398.60 C424.72,398.60 431.78,397.13 437.40,397.70 C443.02,398.27 448.58,400.32 454.20,402.00 C459.82,403.68 465.48,406.55 471.10,407.80 C476.72,409.05 481.60,409.22 487.90,409.50 C494.20,409.78 505.40,409.50 508.90,409.50 M370.00,398.60 C370.75,398.53 370.28,398.40 374.50,398.20 C378.72,398.00 389.03,397.67 395.30,397.40 C401.57,397.13 407.05,396.73 412.10,396.60 C417.15,396.47 421.38,396.37 425.60,396.60 C429.82,396.83 433.33,397.27 437.40,398.00 C441.47,398.73 445.90,399.92 450.00,401.00 C454.10,402.08 460.00,403.92 462.00,404.50 M370.00,405.30 C370.75,405.25 370.28,405.13 374.50,405.00 C378.72,404.87 389.03,404.45 395.30,404.50 C401.57,404.55 407.05,404.75 412.10,405.30 C417.15,405.85 421.38,406.82 425.60,407.80 C429.82,408.78 434.03,409.78 437.40,411.20 C440.77,412.62 443.57,414.90 445.80,416.30 C448.03,417.70 449.97,419.05 450.80,419.60 M370.00,411.20 C370.75,411.15 370.28,410.90 374.50,410.90 C378.72,410.90 389.87,410.73 395.30,411.20 C400.73,411.67 403.73,412.85 407.10,413.70 C410.47,414.55 413.27,415.45 415.50,416.30 C417.73,417.15 419.67,418.38 420.50,418.80"/><path clip-path="url(#as4)" fill="none" stroke="#000" stroke-width="1.9" d="M505.00,240.38 C505.64,240.38 506.71,240.64 508.85,240.38 C510.98,240.13 514.19,239.85 517.82,238.85 C521.45,237.84 526.37,235.75 530.64,234.36 C534.91,232.97 539.19,231.52 543.46,230.51 C547.74,229.51 551.90,228.80 556.28,228.33 C560.66,227.86 567.50,227.80 569.74,227.69 M508.85,265.00 C519.00,264.89 559.59,264.47 569.74,264.36 M508.85,265.77 C519.00,265.68 559.59,265.34 569.74,265.26 M508.85,273.21 C519.00,273.25 559.59,273.42 569.74,273.46 M508.85,273.97 C519.00,274.04 559.59,274.29 569.74,274.36 M508.85,274.74 C519.00,274.81 559.59,275.06 569.74,275.13 M508.85,275.77 C519.00,275.77 559.59,275.77 569.74,275.77 M508.85,276.79 C519.00,276.71 559.59,276.37 569.74,276.28 M505.00,283.72 C505.64,283.61 506.71,282.44 508.85,283.08 C510.98,283.72 514.62,285.32 517.82,287.56 C521.03,289.81 525.10,293.07 528.08,296.54 C531.06,300.00 532.21,303.71 535.71,308.35 C539.20,312.99 544.83,319.70 549.06,324.37 C553.29,329.05 557.67,333.94 561.07,336.39 C564.48,338.84 568.08,338.61 569.49,339.06 M505.00,287.56 C505.64,287.56 507.14,287.35 508.85,287.56 C510.56,287.78 512.69,287.35 515.26,288.85 C517.82,290.34 521.67,293.85 524.23,296.54 C526.79,299.23 529.40,303.48 530.64,305.00 C531.89,306.52 529.30,303.12 531.70,305.68 C534.10,308.24 540.60,316.25 545.05,320.37 C549.50,324.48 554.33,328.16 558.40,330.38 C562.48,332.61 567.64,333.16 569.49,333.72 M508.60,409.20 C513.83,409.03 529.83,408.47 540.00,408.20 C550.17,407.93 564.67,407.70 569.60,407.60 M508.60,415.20 C513.83,415.17 529.83,415.07 540.00,415.00 C550.17,414.93 564.67,414.83 569.60,414.80"/><path clip-path="url(#as5)" fill="none" stroke="#000" stroke-width="1.9" d="M569.62,227.44 C573.12,226.37 582.86,224.02 590.64,221.03 C598.42,218.03 607.74,212.48 616.28,209.49 C624.83,206.50 633.38,205.09 641.92,203.08 C650.47,201.07 659.74,198.63 667.56,197.44 C675.38,196.24 685.30,196.15 688.85,195.90 M569.62,263.59 C571.41,262.48 576.03,261.03 580.38,256.92 C584.74,252.82 589.79,244.96 595.77,238.97 C601.75,232.99 609.44,225.09 616.28,221.03 C623.12,216.97 628.25,215.90 636.79,214.62 C645.34,213.33 658.89,213.55 667.56,213.33 C676.24,213.12 685.30,213.33 688.85,213.33 M569.62,264.10 C571.41,263.12 576.03,261.54 580.38,258.21 C584.74,254.87 589.79,248.59 595.77,244.10 C601.75,239.62 609.44,233.85 616.28,231.28 C623.12,228.72 630.38,228.72 636.79,228.72 C643.21,228.72 648.76,229.57 654.74,231.28 C660.73,232.99 667.01,235.56 672.69,238.97 C678.38,242.39 686.15,249.66 688.85,251.79 M569.62,274.10 C571.41,271.67 576.03,263.63 580.38,259.49 C584.74,255.34 589.79,251.88 595.77,249.23 C601.75,246.58 608.59,244.87 616.28,243.59 C623.97,242.31 633.38,241.97 641.92,241.54 C650.47,241.11 659.74,241.11 667.56,241.03 C675.38,240.94 685.30,241.03 688.85,241.03 M569.62,274.10 C571.41,271.79 576.03,263.21 580.38,260.26 C584.74,257.31 589.79,256.75 595.77,256.41 C601.75,256.07 608.59,256.84 616.28,258.21 C623.97,259.57 633.38,261.84 641.92,264.62 C650.47,267.39 659.74,270.60 667.56,274.87 C675.38,279.15 685.30,287.69 688.85,290.26 M569.60,274.00 C569.98,274.47 570.35,275.17 571.90,276.80 C573.45,278.43 576.72,281.38 578.90,283.80 C581.08,286.22 582.93,289.22 585.00,291.30 C587.07,293.38 589.20,294.42 591.30,296.30 C593.40,298.18 595.80,300.97 597.60,302.60 C599.40,304.23 600.73,305.67 602.10,306.10 C603.47,306.53 603.92,306.20 605.80,305.20 C607.68,304.20 610.55,301.90 613.40,300.10 C616.25,298.30 619.73,295.87 622.90,294.40 C626.07,292.93 628.72,292.03 632.40,291.30 C636.08,290.57 641.28,290.17 645.00,290.00 C648.72,289.83 650.08,288.55 654.70,290.30 C659.32,292.05 667.02,297.52 672.70,300.50 C678.38,303.48 686.12,306.92 688.80,308.20 M569.60,274.60 C570.08,275.08 570.85,275.77 572.50,277.50 C574.15,279.23 577.42,282.50 579.50,285.00 C581.58,287.50 583.03,290.30 585.00,292.50 C586.97,294.70 589.20,296.20 591.30,298.20 C593.40,300.20 595.70,302.82 597.60,304.50 C599.50,306.18 601.22,307.67 602.70,308.30 C604.18,308.93 604.72,309.13 606.50,308.30 C608.28,307.47 610.67,305.18 613.40,303.30 C616.13,301.42 619.73,298.68 622.90,297.00 C626.07,295.32 628.72,293.95 632.40,293.20 C636.08,292.45 641.28,292.35 645.00,292.50 C648.72,292.65 650.08,292.33 654.70,294.10 C659.32,295.87 667.02,300.53 672.70,303.10 C678.38,305.67 686.12,308.43 688.80,309.50 M569.60,275.20 C570.03,275.83 570.80,277.12 572.20,279.00 C573.60,280.88 575.87,283.62 578.00,286.50 C580.13,289.38 583.20,293.62 585.00,296.30 C586.80,298.98 587.53,300.48 588.80,302.60 C590.07,304.72 591.45,307.23 592.60,309.00 C593.75,310.77 594.63,312.60 595.70,313.20 C596.77,313.80 597.87,312.87 599.00,312.60 C600.13,312.33 601.33,311.70 602.50,311.60 C603.67,311.50 604.70,311.50 606.00,312.00 C607.30,312.50 608.53,313.63 610.30,314.60 C612.07,315.57 613.97,316.63 616.60,317.80 C619.23,318.97 622.95,320.65 626.10,321.60 C629.25,322.55 632.35,323.30 635.50,323.50 C638.65,323.70 639.65,323.63 645.00,322.80 C650.35,321.97 660.30,320.50 667.60,318.50 C674.90,316.50 685.27,312.08 688.80,310.80 M569.60,275.80 C570.13,276.58 571.32,278.38 572.80,280.50 C574.28,282.62 576.47,285.55 578.50,288.50 C580.53,291.45 583.28,295.42 585.00,298.20 C586.72,300.98 587.53,302.88 588.80,305.20 C590.07,307.52 591.33,310.22 592.60,312.10 C593.87,313.98 595.25,315.55 596.40,316.50 C597.55,317.45 598.45,317.80 599.50,317.80 C600.55,317.80 601.65,316.82 602.70,316.50 C603.75,316.18 604.53,315.58 605.80,315.90 C607.07,316.22 608.50,317.25 610.30,318.40 C612.10,319.55 613.97,321.00 616.60,322.80 C619.23,324.60 622.95,327.40 626.10,329.20 C629.25,331.00 632.35,332.55 635.50,333.60 C638.65,334.65 639.65,336.32 645.00,335.50 C650.35,334.68 660.30,332.82 667.60,328.70 C674.90,324.58 685.27,313.78 688.80,310.80 M565.00,333.85 C565.77,333.93 567.05,334.87 569.62,334.36 C572.18,333.85 576.88,332.35 580.38,330.77 C583.89,329.19 587.86,326.37 590.64,324.87 C593.42,323.38 594.91,321.24 597.05,321.79 C599.19,322.35 600.26,322.78 603.46,328.21 C606.67,333.63 613.19,348.48 616.28,354.36 C619.37,360.24 620.21,360.81 622.00,363.50 C623.79,366.19 625.17,368.65 627.00,370.50 C628.83,372.35 631.00,373.92 633.00,374.60 C635.00,375.28 636.83,375.12 639.00,374.60 C641.17,374.08 643.38,372.73 646.00,371.50 C648.62,370.27 650.25,369.20 654.70,367.20 C659.15,365.20 667.02,359.93 672.70,359.50 C678.38,359.07 686.12,363.75 688.80,364.60 M565.00,338.97 C565.77,339.06 567.05,340.13 569.62,339.49 C572.18,338.85 576.88,336.92 580.38,335.13 C583.89,333.33 587.86,330.43 590.64,328.72 C593.42,327.01 594.91,324.44 597.05,324.87 C599.19,325.30 600.26,325.51 603.46,331.28 C606.67,337.05 612.66,352.25 616.28,359.49 C619.90,366.72 622.73,370.54 625.18,374.68 C627.63,378.83 629.05,381.46 630.99,384.37 C632.93,387.27 635.02,389.94 636.80,392.12 C638.58,394.29 640.35,396.39 641.64,397.44 C642.93,398.49 642.61,398.65 644.55,398.41 C646.48,398.17 650.20,396.88 653.26,395.99 C656.33,395.10 659.72,394.38 662.95,393.08 C666.18,391.79 669.40,389.50 672.63,388.24 C675.86,386.98 679.73,386.01 682.32,385.53 C684.90,385.05 687.16,385.37 688.13,385.34 M569.60,407.60 C571.33,407.57 574.93,408.00 580.00,407.40 C585.07,406.80 594.67,405.23 600.00,404.00 C605.33,402.77 607.67,401.23 612.00,400.00 C616.33,398.77 621.33,397.03 626.00,396.60 C630.67,396.17 636.50,397.07 640.00,397.40 C643.50,397.73 645.83,398.40 647.00,398.60 M569.60,407.60 C571.33,407.57 574.93,408.00 580.00,407.40 C585.07,406.80 594.67,405.23 600.00,404.00 C605.33,402.77 607.64,401.21 612.00,400.00 C616.36,398.79 622.50,397.03 626.15,396.76 C629.80,396.50 631.47,397.86 633.90,398.41 C636.32,398.96 638.25,399.49 640.67,400.06 C643.10,400.62 646.32,401.27 648.42,401.80 C650.52,402.33 651.65,403.17 653.26,403.25 C654.88,403.33 655.68,403.09 658.11,402.28 C660.53,401.48 664.56,399.46 667.79,398.41 C671.02,397.36 674.08,396.47 677.47,395.99 C680.86,395.51 686.35,395.59 688.13,395.51 M608.72,417.78 C610.49,416.57 615.98,412.53 619.37,410.52 C622.76,408.50 625.99,406.88 629.05,405.67 C632.12,404.46 635.35,403.33 637.77,403.25 C640.19,403.17 641.48,404.30 643.58,405.19 C645.68,406.08 647.94,408.10 650.36,408.58 C652.78,409.06 655.20,408.90 658.11,408.10 C661.01,407.29 664.56,405.75 667.79,403.74 C671.02,401.72 674.08,398.57 677.47,395.99 C680.86,393.41 686.35,389.53 688.13,388.24 M612.59,417.78 C614.53,416.70 620.82,413.15 624.21,411.29 C627.60,409.43 630.67,407.82 632.93,406.64 C635.19,405.46 635.99,404.22 637.77,404.22 C639.54,404.22 641.48,405.75 643.58,406.64 C645.68,407.53 647.94,409.22 650.36,409.55 C652.78,409.87 656.81,408.74 658.11,408.58 M619.37,417.78 C620.98,416.65 626.15,412.29 629.05,411.00 C631.96,409.71 634.38,410.11 636.80,410.03 C639.22,409.95 640.84,410.27 643.58,410.52 C646.32,410.76 649.23,411.48 653.26,411.48 C657.30,411.48 663.75,410.92 667.79,410.52 C671.83,410.11 674.08,409.63 677.47,409.06 C680.86,408.50 686.35,407.45 688.13,407.13 M646.48,417.78 C647.13,417.46 649.07,416.17 650.36,415.84 C651.65,415.52 652.13,415.68 654.23,415.84 C656.33,416.00 659.88,416.49 662.95,416.81 C666.01,417.13 671.02,417.62 672.63,417.78 M569.60,414.80 C571.33,415.10 576.60,416.07 580.00,416.60 C583.40,417.13 588.33,417.77 590.00,418.00"/></g>
<line x1="225.50" y1="19.00" x2="225.50" y2="417.60" stroke="#000" stroke-width="2.0" />
<line x1="225.50" y1="459.70" x2="225.50" y2="859.80" stroke="#000" stroke-width="2.0" />
<line x1="306.00" y1="19.00" x2="306.00" y2="417.60" stroke="#000" stroke-width="2.0" />
<line x1="306.00" y1="459.70" x2="306.00" y2="859.80" stroke="#000" stroke-width="2.0" />
<line x1="374.40" y1="19.00" x2="374.40" y2="417.60" stroke="#000" stroke-width="2.0" />
<line x1="374.40" y1="459.70" x2="374.40" y2="859.80" stroke="#000" stroke-width="2.0" />
<line x1="508.50" y1="19.00" x2="508.50" y2="417.60" stroke="#000" stroke-width="2.0" />
<line x1="508.50" y1="459.70" x2="508.50" y2="859.80" stroke="#000" stroke-width="2.0" />
<line x1="569.50" y1="19.00" x2="569.50" y2="417.60" stroke="#000" stroke-width="2.0" />
<line x1="569.50" y1="459.70" x2="569.50" y2="859.80" stroke="#000" stroke-width="2.0" />
<g clip-path="url(#clipDA)"><path d="M689.60,18.85 L714.85,18.85 L714.21,19.87 L712.28,23.97 L710.36,26.54 L705.23,31.67 L698.82,39.36 L693.69,45.77 L690.49,50.90 L689.72,52.18 L689.60,80.50 L694.97,81.79 L711.64,82.31 L719.33,84.23 L737.28,86.79 L750.10,88.08 L741.13,89.10 L719.33,90.64 L709.08,92.56 L710.36,95.77 L715.49,98.08 L705.23,99.62 L691.13,101.54 L689.72,102.18 L689.60,196.00 L698.82,196.41 L729.59,197.05 L744.97,197.95 L711.64,200.26 L713.56,201.54 L725.74,204.10 L765.49,206.41 L725.74,207.95 L728.31,209.23 L733.44,211.79 L730.87,214.36 L733.44,216.92 L739.85,220.77 L744.97,221.41 L738.56,222.69 L746.26,224.62 L741.13,226.54 L744.97,228.46 L728.31,229.74 L730.87,233.59 L727.03,234.87 L720.62,236.79 L718.05,241.28 L715.49,243.85 L715.49,246.41 L710.36,248.97 L705.23,252.82 L703.95,254.10 L716.77,256.67 L707.79,257.95 L711.64,259.87 L714.21,263.08 L705.23,264.36 L700.10,266.92 L698.82,272.05 L700.10,274.62 L706.51,277.18 L711.64,279.74 L719.33,282.31 L720.62,286.15 L724.46,288.72 L725.74,292.56 L716.77,295.13 L714.21,298.97 L715.49,302.82 L721.90,305.38 L716.77,303.85 L724.46,308.97 L723.18,314.10 L724.46,319.23 L728.95,325.00 L725.74,326.92 L716.77,330.77 L714.21,335.90 L709.08,342.31 L707.79,346.15 L719.33,348.72 L724.46,351.28 L716.77,353.21 L711.64,356.41 L719.33,358.97 L725.74,361.54 L730.87,365.38 L724.46,366.67 L732.15,370.51 L724.46,371.79 L719.33,375.64 L725.74,379.49 L747.54,382.69 L728.31,384.62 L720.62,387.18 L718.05,392.31 L724.46,394.87 L746.26,398.72 L729.59,401.28 L732.15,405.13 L738.56,408.97 L724.46,410.26 L720.62,411.54 L728.31,412.82 L741.13,414.74 L743.69,417.31 L689.60,417.31 Z" fill="#1f77b4" fill-opacity="0.1" stroke="none"/><path d="M689.60,18.85 L705.87,18.85 L705.23,19.87 L703.31,25.26 L697.54,34.23 L692.41,43.21 L690.49,48.33 L689.72,50.26 L689.60,81.00 L711.64,82.95 L718.05,85.26 L739.85,88.08 L718.05,90.64 L709.08,91.67 L707.15,95.13 L712.92,98.59 L698.82,100.26 L691.13,101.15 L689.72,101.67 L689.60,196.00 L728.31,197.44 L703.95,199.23 L709.08,202.18 L742.41,206.41 L711.64,207.95 L712.92,210.51 L715.49,213.08 L712.92,215.64 L716.77,218.21 L720.62,220.77 L724.46,222.69 L725.74,224.62 L719.33,225.90 L714.21,228.46 L718.05,233.59 L710.36,238.72 L705.23,243.85 L702.67,248.97 L698.82,252.82 L706.51,256.67 L701.38,257.95 L702.67,261.79 L697.54,264.36 L696.26,269.49 L694.97,273.33 L696.26,277.18 L700.10,281.03 L696.26,284.87 L694.97,288.72 L692.41,295.13 L691.77,301.54 L692.41,307.95 L693.69,306.41 L696.26,315.38 L697.54,325.64 L696.26,334.62 L694.97,341.03 L696.26,348.72 L694.97,353.85 L697.54,360.26 L698.82,365.38 L697.54,370.51 L696.26,376.92 L701.38,382.05 L698.82,384.62 L697.54,389.74 L701.38,394.87 L709.08,398.72 L703.95,402.56 L705.23,406.41 L701.38,408.97 L700.10,411.54 L705.23,412.82 L707.79,415.38 L705.23,417.31 L689.60,417.31 Z" fill="#ff8c3c" fill-opacity="0.12" stroke="none"/><path d="M689.60,18.85 L692.67,18.85 L692.41,19.87 L691.13,27.82 L690.10,38.08 L689.85,48.33 L690.20,300.00 L690.20,417.50 L689.60,417.50 Z" fill="#f5d835" fill-opacity="0.1" stroke="none"/><path d="M689.60,18.85 L695.23,18.85 L694.97,19.87 L693.05,30.38 L691.13,40.64 L689.85,50.90 L689.60,81.50 L693.69,82.95 L694.97,86.15 L698.82,87.82 L693.69,90.00 L692.41,94.49 L691.13,98.33 L689.85,100.90 L689.60,196.00 L700.10,197.05 L707.79,197.69 L698.18,198.97 L698.82,202.18 L705.23,204.10 L712.92,206.41 L703.95,207.31 L706.51,211.79 L709.08,215.64 L710.36,220.77 L709.72,225.90 L705.23,229.74 L700.10,236.15 L698.82,241.28 L697.54,246.41 L696.26,251.54 L700.10,256.67 L698.82,259.23 L697.54,261.79 L694.97,269.49 L693.69,273.33 L698.82,274.62 L701.38,277.18 L705.23,279.74 L710.36,283.59 L716.77,287.44 L719.33,290.00 L720.62,292.56 L712.92,295.13 L711.64,298.97 L712.92,302.82 L716.77,306.67 L711.64,303.85 L719.33,308.97 L718.05,314.10 L720.62,319.23 L720.62,325.00 L718.05,326.92 L710.36,329.49 L707.79,334.62 L703.95,341.03 L702.67,344.87 L712.92,347.44 L716.77,350.64 L706.51,353.85 L706.51,357.69 L716.77,360.26 L719.33,364.10 L718.05,366.67 L720.62,369.87 L711.64,374.36 L712.92,378.21 L733.44,382.69 L718.05,384.62 L711.64,388.46 L709.08,392.31 L714.21,394.87 L724.46,398.72 L715.49,402.56 L716.77,406.41 L720.62,408.97 L709.08,410.26 L707.79,411.54 L716.77,413.46 L721.90,414.74 L718.05,417.31 L689.60,417.31 Z" fill="#ff0000" fill-opacity="0.1" stroke="none"/><path d="M714.85,18.85 L714.21,19.87 L712.28,23.97 L710.36,26.54 L705.23,31.67 L698.82,39.36 L693.69,45.77 L690.49,50.90 L689.72,52.18 L689.60,80.50 L694.97,81.79 L711.64,82.31 L719.33,84.23 L737.28,86.79 L750.10,88.08 L741.13,89.10 L719.33,90.64 L709.08,92.56 L710.36,95.77 L715.49,98.08 L705.23,99.62 L691.13,101.54 L689.72,102.18 L689.60,196.00 L698.82,196.41 L729.59,197.05 L744.97,197.95 L711.64,200.26 L713.56,201.54 L725.74,204.10 L765.49,206.41 L725.74,207.95 L728.31,209.23 L733.44,211.79 L730.87,214.36 L733.44,216.92 L739.85,220.77 L744.97,221.41 L738.56,222.69 L746.26,224.62 L741.13,226.54 L744.97,228.46 L728.31,229.74 L730.87,233.59 L727.03,234.87 L720.62,236.79 L718.05,241.28 L715.49,243.85 L715.49,246.41 L710.36,248.97 L705.23,252.82 L703.95,254.10 L716.77,256.67 L707.79,257.95 L711.64,259.87 L714.21,263.08 L705.23,264.36 L700.10,266.92 L698.82,272.05 L700.10,274.62 L706.51,277.18 L711.64,279.74 L719.33,282.31 L720.62,286.15 L724.46,288.72 L725.74,292.56 L716.77,295.13 L714.21,298.97 L715.49,302.82 L721.90,305.38 L716.77,303.85 L724.46,308.97 L723.18,314.10 L724.46,319.23 L728.95,325.00 L725.74,326.92 L716.77,330.77 L714.21,335.90 L709.08,342.31 L707.79,346.15 L719.33,348.72 L724.46,351.28 L716.77,353.21 L711.64,356.41 L719.33,358.97 L725.74,361.54 L730.87,365.38 L724.46,366.67 L732.15,370.51 L724.46,371.79 L719.33,375.64 L725.74,379.49 L747.54,382.69 L728.31,384.62 L720.62,387.18 L718.05,392.31 L724.46,394.87 L746.26,398.72 L729.59,401.28 L732.15,405.13 L738.56,408.97 L724.46,410.26 L720.62,411.54 L728.31,412.82 L741.13,414.74 L743.69,417.31" fill="none" stroke="#1f77b4" stroke-width="1.9" stroke-linejoin="round"/><path d="M705.87,18.85 L705.23,19.87 L703.31,25.26 L697.54,34.23 L692.41,43.21 L690.49,48.33 L689.72,50.26 L689.60,81.00 L711.64,82.95 L718.05,85.26 L739.85,88.08 L718.05,90.64 L709.08,91.67 L707.15,95.13 L712.92,98.59 L698.82,100.26 L691.13,101.15 L689.72,101.67 L689.60,196.00 L728.31,197.44 L703.95,199.23 L709.08,202.18 L742.41,206.41 L711.64,207.95 L712.92,210.51 L715.49,213.08 L712.92,215.64 L716.77,218.21 L720.62,220.77 L724.46,222.69 L725.74,224.62 L719.33,225.90 L714.21,228.46 L718.05,233.59 L710.36,238.72 L705.23,243.85 L702.67,248.97 L698.82,252.82 L706.51,256.67 L701.38,257.95 L702.67,261.79 L697.54,264.36 L696.26,269.49 L694.97,273.33 L696.26,277.18 L700.10,281.03 L696.26,284.87 L694.97,288.72 L692.41,295.13 L691.77,301.54 L692.41,307.95 L693.69,306.41 L696.26,315.38 L697.54,325.64 L696.26,334.62 L694.97,341.03 L696.26,348.72 L694.97,353.85 L697.54,360.26 L698.82,365.38 L697.54,370.51 L696.26,376.92 L701.38,382.05 L698.82,384.62 L697.54,389.74 L701.38,394.87 L709.08,398.72 L703.95,402.56 L705.23,406.41 L701.38,408.97 L700.10,411.54 L705.23,412.82 L707.79,415.38 L705.23,417.31" fill="none" stroke="#a57864" stroke-width="1.9" stroke-linejoin="round"/><path d="M692.67,18.85 L692.41,19.87 L691.13,27.82 L690.10,38.08 L689.85,48.33 L690.20,300.00 L690.20,417.50" fill="none" stroke="#f5d835" stroke-width="1.9" stroke-linejoin="round"/><path d="M695.23,18.85 L694.97,19.87 L693.05,30.38 L691.13,40.64 L689.85,50.90 L689.60,81.50 L693.69,82.95 L694.97,86.15 L698.82,87.82 L693.69,90.00 L692.41,94.49 L691.13,98.33 L689.85,100.90 L689.60,196.00 L700.10,197.05 L707.79,197.69 L698.18,198.97 L698.82,202.18 L705.23,204.10 L712.92,206.41 L703.95,207.31 L706.51,211.79 L709.08,215.64 L710.36,220.77 L709.72,225.90 L705.23,229.74 L700.10,236.15 L698.82,241.28 L697.54,246.41 L696.26,251.54 L700.10,256.67 L698.82,259.23 L697.54,261.79 L694.97,269.49 L693.69,273.33 L698.82,274.62 L701.38,277.18 L705.23,279.74 L710.36,283.59 L716.77,287.44 L719.33,290.00 L720.62,292.56 L712.92,295.13 L711.64,298.97 L712.92,302.82 L716.77,306.67 L711.64,303.85 L719.33,308.97 L718.05,314.10 L720.62,319.23 L720.62,325.00 L718.05,326.92 L710.36,329.49 L707.79,334.62 L703.95,341.03 L702.67,344.87 L712.92,347.44 L716.77,350.64 L706.51,353.85 L706.51,357.69 L716.77,360.26 L719.33,364.10 L718.05,366.67 L720.62,369.87 L711.64,374.36 L712.92,378.21 L733.44,382.69 L718.05,384.62 L711.64,388.46 L709.08,392.31 L714.21,394.87 L724.46,398.72 L715.49,402.56 L716.77,406.41 L720.62,408.97 L709.08,410.26 L707.79,411.54 L716.77,413.46 L721.90,414.74 L718.05,417.31" fill="none" stroke="#ff0000" stroke-width="1.9" stroke-linejoin="round"/></g>
<line x1="98.3" y1="196.16" x2="930.7" y2="196.16" stroke="#000" stroke-width="1.9" stroke-dasharray="7.0,3.6" stroke-dashoffset="-0.8"/>
<line x1="98.30" y1="417.60" x2="102.10" y2="417.60" stroke="#000" stroke-width="1.5" />
<line x1="688.20" y1="417.60" x2="685.60" y2="417.60" stroke="#000" stroke-width="1.5" />
<line x1="98.30" y1="395.46" x2="102.10" y2="395.46" stroke="#000" stroke-width="1.5" />
<line x1="98.30" y1="373.31" x2="105.80" y2="373.31" stroke="#000" stroke-width="1.5" />
<line x1="688.20" y1="373.31" x2="685.60" y2="373.31" stroke="#000" stroke-width="1.5" />
<line x1="98.30" y1="351.17" x2="102.10" y2="351.17" stroke="#000" stroke-width="1.5" />
<line x1="98.30" y1="329.02" x2="102.10" y2="329.02" stroke="#000" stroke-width="1.5" />
<line x1="688.20" y1="329.02" x2="685.60" y2="329.02" stroke="#000" stroke-width="1.5" />
<line x1="98.30" y1="306.88" x2="102.10" y2="306.88" stroke="#000" stroke-width="1.5" />
<line x1="98.30" y1="284.73" x2="105.80" y2="284.73" stroke="#000" stroke-width="1.5" />
<line x1="688.20" y1="284.73" x2="685.60" y2="284.73" stroke="#000" stroke-width="1.5" />
<line x1="98.30" y1="262.59" x2="102.10" y2="262.59" stroke="#000" stroke-width="1.5" />
<line x1="98.30" y1="240.44" x2="102.10" y2="240.44" stroke="#000" stroke-width="1.5" />
<line x1="688.20" y1="240.44" x2="685.60" y2="240.44" stroke="#000" stroke-width="1.5" />
<line x1="98.30" y1="218.30" x2="102.10" y2="218.30" stroke="#000" stroke-width="1.5" />
<line x1="98.30" y1="196.16" x2="105.80" y2="196.16" stroke="#000" stroke-width="1.5" />
<line x1="688.20" y1="196.16" x2="685.60" y2="196.16" stroke="#000" stroke-width="1.5" />
<line x1="98.30" y1="174.01" x2="102.10" y2="174.01" stroke="#000" stroke-width="1.5" />
<line x1="98.30" y1="151.87" x2="102.10" y2="151.87" stroke="#000" stroke-width="1.5" />
<line x1="688.20" y1="151.87" x2="685.60" y2="151.87" stroke="#000" stroke-width="1.5" />
<line x1="98.30" y1="129.72" x2="102.10" y2="129.72" stroke="#000" stroke-width="1.5" />
<line x1="98.30" y1="107.58" x2="105.80" y2="107.58" stroke="#000" stroke-width="1.5" />
<line x1="688.20" y1="107.58" x2="685.60" y2="107.58" stroke="#000" stroke-width="1.5" />
<line x1="98.30" y1="85.43" x2="102.10" y2="85.43" stroke="#000" stroke-width="1.5" />
<line x1="98.30" y1="63.29" x2="102.10" y2="63.29" stroke="#000" stroke-width="1.5" />
<line x1="688.20" y1="63.29" x2="685.60" y2="63.29" stroke="#000" stroke-width="1.5" />
<line x1="98.30" y1="41.14" x2="102.10" y2="41.14" stroke="#000" stroke-width="1.5" />
<line x1="98.30" y1="19.00" x2="105.80" y2="19.00" stroke="#000" stroke-width="1.5" />
<line x1="688.20" y1="19.00" x2="685.60" y2="19.00" stroke="#000" stroke-width="1.5" />
<rect x="455.6" y="28.3" width="220.5" height="148.8" fill="#fff" stroke="#000" stroke-width="1.9"/><path d="M469.7,48.5 L548.7,30.9 M548.7,30.9 L644.6,40.8 M548.7,30.9 L551.9,57.6 M551.9,57.6 L648.0,68.9 M644.6,40.8 L661.0,68.1 M469.7,48.5 L459.8,78.9 M469.7,48.5 L486.2,75.7 M486.2,75.7 L581.6,84.9 M581.6,84.9 L661.0,68.1 M551.9,57.6 L542.3,88.1 M542.3,88.1 L545.5,120.1 M542.3,88.1 L464.6,106.2 M459.8,78.9 L464.6,106.2 M464.6,106.2 L470.2,137.7 M459.8,78.9 L475.8,104.1 M486.2,75.7 L475.8,104.1 M475.8,104.1 L483.0,137.7 M545.5,120.1 L470.2,137.7 M483.0,137.7 L577.6,147.4 M470.2,137.7 L486.2,165.0 M483.0,137.7 L486.2,165.0 M486.2,165.0 L580.8,174.7 M545.5,120.1 L644.4,129.6 M581.6,84.9 L588.1,117.8 M588.1,117.8 L577.6,147.4 M588.1,117.8 L665.8,100.4 M644.4,129.6 L661.0,157.7 M661.0,157.7 L671.2,126.6 M661.0,68.1 L671.2,126.6 M577.6,147.4 L580.8,174.7 M580.8,174.7 L661.0,157.7 M644.6,40.8 L648.0,68.9 M648.0,68.9 L653.3,102.8 M653.3,102.8 L644.4,129.6 M653.3,102.8 L671.2,126.6 " stroke="#000" stroke-width="1.9" fill="none" stroke-linecap="round" stroke-linejoin="round"/><path d="M533.3,81.0 L564.7,58.4 M564.6,103.0 L531.7,112.1 M531.7,112.1 L588.0,118.0 M564.6,103.0 L627.3,109.4 " stroke="#a50000" stroke-width="1.1" fill="none"/><line x1="564.7" y1="58.4" x2="564.6" y2="103.0" stroke="#a50000" stroke-width="1.1" stroke-opacity="0.75"/><circle cx="533.3" cy="81.0" r="2.4" fill="#a50000"/><circle cx="564.7" cy="58.4" r="2.4" fill="#a50000"/><circle cx="564.6" cy="103.0" r="2.4" fill="#a50000"/><circle cx="531.7" cy="112.1" r="2.4" fill="#a50000"/><circle cx="588.0" cy="118.0" r="2.4" fill="#a50000"/><circle cx="627.3" cy="109.4" r="2.4" fill="#a50000"/><text transform="translate(576.65,69.30) scale(0.2994,0.3125)" font-family="'Liberation Sans', sans-serif" font-weight="normal" font-size="100" fill="#0000ff" >Z</text><text transform="translate(544.98,91.70) scale(0.2950,0.3096)" font-family="'Liberation Sans', sans-serif" font-weight="normal" font-size="100" fill="#0000ff" >P</text><text transform="translate(542.02,123.60) scale(0.3266,0.3183)" font-family="'Liberation Sans', sans-serif" font-weight="normal" font-size="100" fill="#0000ff" >L</text><text transform="translate(575.81,114.60) scale(0.3423,0.3192)" font-family="'Liberation Serif', serif" font-weight="normal" font-size="100" fill="#0000ff" >Γ</text><text transform="translate(598.56,129.30) scale(0.2856,0.3067)" font-family="'Liberation Sans', sans-serif" font-weight="normal" font-size="100" fill="#0000ff" >B</text><text transform="translate(618.83,133.80) scale(0.1670,0.2326)" font-family="'Liberation Sans', sans-serif" font-weight="normal" font-size="100" fill="#0000ff" >1</text><text transform="translate(639.46,120.70) scale(0.2856,0.3111)" font-family="'Liberation Sans', sans-serif" font-weight="normal" font-size="100" fill="#0000ff" >P</text><text transform="translate(658.16,125.80) scale(0.2458,0.2177)" font-family="'Liberation Sans', sans-serif" font-weight="normal" font-size="100" fill="#0000ff" >2</text>
<rect x="725.5" y="25.5" width="196.1" height="59.7" rx="4" ry="4" fill="#fff" fill-opacity="0.8" stroke="#d0d0d0" stroke-width="1.3"/><line x1="736.6" y1="39.4" x2="770.4" y2="39.4" stroke="#1f77b4" stroke-width="2"/><line x1="833.2" y1="39.4" x2="866.3" y2="39.4" stroke="#f5d835" stroke-width="2"/><line x1="736.6" y1="70.4" x2="770.4" y2="70.4" stroke="#a57864" stroke-width="2"/><line x1="833.2" y1="70.4" x2="866.3" y2="70.4" stroke="#ff0000" stroke-width="2"/><text transform="translate(777.31,49.49) scale(0.3920,0.3200)" font-family="'Liberation Sans', sans-serif" font-weight="normal" font-size="100" fill="#000" >tot</text><text transform="translate(869.49,49.50) scale(0.3176,0.3096)" font-family="'Liberation Sans', sans-serif" font-weight="normal" font-size="100" fill="#000" >Na</text><text transform="translate(778.15,81.31) scale(0.3230,0.2967)" font-family="'Liberation Sans', sans-serif" font-weight="normal" font-size="100" fill="#000" >Ru</text><text transform="translate(870.62,81.70) scale(0.3135,0.3037)" font-family="'Liberation Sans', sans-serif" font-weight="normal" font-size="100" fill="#000" >O</text>
<rect x="98.3" y="19.0" width="589.9000000000001" height="398.6" fill="none" stroke="#000" stroke-width="1.9"/>
<path d="M688.2,19.0 H930.7 V417.6 H688.2" fill="none" stroke="#000" stroke-width="1.9"/>
<line x1="689.20" y1="417.60" x2="689.20" y2="422.20" stroke="#000" stroke-width="1.5" />
<line x1="749.53" y1="417.60" x2="749.53" y2="422.20" stroke="#000" stroke-width="1.5" />
<line x1="809.85" y1="417.60" x2="809.85" y2="422.20" stroke="#000" stroke-width="1.5" />
<line x1="870.17" y1="417.60" x2="870.17" y2="422.20" stroke="#000" stroke-width="1.5" />
<line x1="930.50" y1="417.60" x2="930.50" y2="422.20" stroke="#000" stroke-width="1.5" />
<g id="bands_b" clip-path="url(#clipB)"><path fill="none" stroke="#000" stroke-width="1.9" d="M98.27,563.61 C99.54,563.67 103.66,563.79 105.90,563.97 C108.14,564.15 110.14,564.94 111.71,564.70 C113.28,564.46 113.89,564.31 115.34,562.52 C116.79,560.73 118.37,557.98 120.43,553.98 C122.49,549.99 124.97,544.75 127.69,538.55 C130.42,532.34 133.75,524.62 136.77,516.75 C139.80,508.88 143.13,499.19 145.85,491.32 C148.58,483.45 151.15,475.58 153.12,469.53 C155.09,463.48 156.90,457.42 157.66,455.00 M98.27,566.15 C99.54,566.33 103.72,566.94 105.90,567.24 C108.08,567.54 109.53,568.09 111.35,567.97 C113.16,567.85 113.46,566.64 116.79,566.51 C120.12,566.39 125.88,567.00 131.32,567.24 C136.77,567.48 143.43,568.15 149.49,567.97 C155.54,567.79 161.59,567.18 167.65,566.15 C173.70,565.12 179.76,563.31 185.81,561.79 C191.86,560.28 197.37,558.19 203.97,557.07 C210.57,555.95 219.92,554.85 225.40,555.07 C230.88,555.30 232.48,556.28 236.84,558.42 C241.20,560.56 247.02,565.33 251.58,567.89 C256.14,570.46 258.95,572.74 264.21,573.79 C269.47,574.84 276.21,574.07 283.16,574.21 C290.11,574.35 299.58,574.98 305.89,574.63 C312.21,574.28 316.07,573.05 321.05,572.11 C326.04,571.16 330.88,570.70 335.79,568.95 C340.70,567.19 345.26,563.93 350.53,561.58 C355.79,559.23 363.33,556.07 367.37,554.84 C371.40,553.61 371.23,554.32 374.74,554.21 C378.25,554.11 383.68,553.86 388.42,554.21 C393.16,554.56 398.60,555.37 403.16,556.32 C407.72,557.26 411.58,558.67 415.79,559.89 C420.00,561.12 426.32,563.05 428.42,563.68 M98.27,579.41 C99.24,579.11 101.75,578.50 104.08,577.59 C106.41,576.69 109.83,574.11 112.25,573.96 C114.68,573.81 115.43,574.11 118.61,576.69 C121.79,579.26 126.18,584.56 131.32,589.40 C136.47,594.24 144.04,601.81 149.49,605.74 C154.93,609.68 159.48,612.25 164.02,613.01 C168.56,613.77 171.58,612.71 176.73,610.29 C181.87,607.86 188.84,602.72 194.89,598.48 C200.95,594.24 207.97,587.95 213.05,584.86 C218.14,581.77 220.74,581.10 225.40,579.95 C230.07,578.81 234.94,578.61 241.05,578.00 C247.17,577.39 256.84,576.25 262.11,576.32 C267.37,576.39 268.77,577.65 272.63,578.42 C276.49,579.19 281.75,580.60 285.26,580.95 C288.77,581.30 290.25,581.02 293.68,580.53 C297.12,580.04 301.33,578.63 305.89,578.00 C310.46,577.37 316.07,577.30 321.05,576.74 C326.04,576.18 329.82,574.98 335.79,574.63 C341.75,574.28 350.35,574.56 356.84,574.63 C363.33,574.70 369.47,575.72 374.74,575.05 C380.00,574.39 384.39,571.12 388.42,570.63 C392.46,570.14 394.39,570.28 398.95,572.11 C403.51,573.93 410.88,578.77 415.79,581.58 C420.70,584.39 426.32,587.72 428.42,588.95 M98.79,729.47 C103.42,728.95 116.68,728.42 126.58,726.32 C136.47,724.21 147.63,719.21 158.16,716.84 C168.68,714.47 178.58,712.74 189.74,712.11 C200.89,711.47 214.58,712.42 225.10,713.05 C235.63,713.68 245.63,715.10 252.89,715.89 C260.16,716.68 260.79,717.53 268.68,717.79 C276.58,718.05 294.05,717.47 300.26,717.47 C306.47,717.47 300.68,717.63 305.95,717.79 C311.21,717.95 323.31,718.95 331.84,718.42 C340.37,717.89 350.00,715.53 357.10,714.63 C364.21,713.74 366.71,713.21 374.47,713.05 C382.23,712.89 393.20,712.90 403.68,713.68 C414.16,714.46 426.14,715.76 437.36,717.72 C448.59,719.69 459.26,723.45 471.04,725.47 C482.83,727.49 496.87,729.68 508.09,729.85 C519.32,730.02 528.13,727.38 538.41,726.48 C548.68,725.58 561.31,725.19 569.73,724.46 C578.15,723.73 581.80,723.62 588.93,722.10 C596.06,720.59 604.09,716.88 612.51,715.37 C620.93,713.85 626.82,713.46 639.45,713.01 C652.08,712.56 680.15,712.73 688.29,712.67 M98.79,802.74 C103.42,797.63 116.68,781.95 126.58,772.10 C136.47,762.26 147.63,750.53 158.16,743.68 C168.68,736.84 178.58,733.26 189.74,731.05 C200.89,728.84 214.58,730.84 225.10,730.42 C235.63,730.00 241.42,729.32 252.89,728.53 C264.37,727.74 285.10,725.95 293.95,725.68 C302.79,725.42 299.63,726.32 305.95,726.95 C312.26,727.58 320.42,728.89 331.84,729.47 C343.26,730.05 362.50,730.25 374.47,730.42 C386.44,730.60 393.20,728.82 403.68,730.52 C414.16,732.22 427.26,735.01 437.36,740.63 C447.47,746.24 455.89,755.78 464.31,764.20 C472.73,772.62 481.71,784.97 487.88,791.15 C494.06,797.32 497.99,799.29 501.36,801.25 C504.73,803.22 501.92,802.66 508.09,802.94 C514.27,803.22 528.13,803.05 538.41,802.94 C548.68,802.82 562.43,803.67 569.73,802.26 C577.03,800.86 576.19,800.30 582.19,794.52 C588.20,788.73 597.35,776.27 605.77,767.57 C614.19,758.87 623.73,748.49 632.71,742.31 C641.70,736.14 650.40,732.60 659.66,730.52 C668.92,728.45 683.52,729.96 688.29,729.85 M98.79,802.74 C102.37,800.79 112.47,793.63 120.26,791.05 C128.05,788.47 136.58,787.00 145.53,787.26 C154.47,787.53 163.95,789.89 173.95,792.63 C183.95,795.37 197.00,801.05 205.53,803.68 C214.05,806.31 219.84,808.16 225.10,808.42 C230.37,808.68 231.42,808.68 237.10,805.26 C242.79,801.84 251.31,792.37 259.21,787.89 C267.10,783.42 276.68,779.74 284.47,778.42 C292.26,777.10 299.63,779.21 305.95,780.00 C312.26,780.79 315.42,779.74 322.37,783.16 C329.31,786.58 340.79,795.53 347.63,800.53 C354.47,805.53 358.94,810.53 363.42,813.16 C367.89,815.79 370.57,816.05 374.47,816.31 C378.37,816.58 379.17,818.08 386.84,814.73 C394.52,811.37 408.73,800.69 420.52,796.20 C432.31,791.71 446.34,787.78 457.57,787.78 C468.80,787.78 479.46,793.67 487.88,796.20 C496.31,798.73 499.67,801.81 508.09,802.94 C516.51,804.06 528.13,803.05 538.41,802.94 C548.68,802.82 561.31,803.67 569.73,802.26 C578.15,800.86 582.36,796.37 588.93,794.52 C595.50,792.66 600.72,790.87 609.14,791.15 C617.56,791.43 628.79,792.83 639.45,796.20 C650.12,799.57 664.99,807.99 673.13,811.36 C681.27,814.73 685.76,815.57 688.29,816.41 M444.00,452.00 C444.57,453.45 446.32,457.30 447.40,460.70 C448.48,464.10 449.40,467.85 450.50,472.40 C451.60,476.95 453.42,485.40 454.00,488.00 M570.00,452.00 C569.57,453.45 568.63,457.30 567.40,460.70 C566.17,464.10 564.00,467.85 562.60,472.40 C561.20,476.95 559.60,485.40 559.00,488.00"/></g>
<g clip-path="url(#clipDB)"><path d="M690.00,711.50 L690.00,711.50 L690.27,711.96 L696.68,714.95 L703.09,720.29 L706.29,721.15 L702.02,721.90 L697.75,724.03 L693.48,725.63 L718.04,726.49 L766.00,728.41 L850.00,729.70 L935.00,730.20 L935.00,731.20 L850.00,731.30 L766.00,731.94 L723.38,733.97 L712.70,736.85 L705.23,740.59 L700.95,744.86 L699.35,751.27 L698.82,755.54 L695.61,758.21 L693.48,759.81 L692.41,768.36 L696.68,770.49 L708.43,771.56 L718.04,774.77 L730.86,777.44 L743.68,779.57 L730.86,782.24 L727.66,787.58 L718.04,791.86 L711.63,795.06 L706.29,799.97 L722.63,798.00 L708.42,806.53 L697.05,815.05 L689.95,817.90 L690.00,817.90 Z" fill="#008000" fill-opacity="0.25"/><path d="M690.00,711.00 L690.00,711.00 L740.00,712.50 L782.00,714.00 L784.00,715.30 L850.00,716.70 L904.50,717.60 L850.00,718.30 L770.00,718.80 L707.36,719.76 L702.02,720.83 L698.82,722.96 L694.54,726.17 L692.94,727.77 L694.54,728.84 L699.89,729.37 L724.45,730.23 L699.89,730.97 L696.68,732.04 L695.61,735.25 L694.01,742.72 L692.41,751.27 L691.34,758.74 L690.81,769.43 L694.54,771.56 L702.02,774.77 L707.36,779.57 L703.09,781.17 L702.02,785.45 L699.89,790.79 L697.75,796.13 L695.61,799.97 L697.05,803.68 L691.37,815.05 L689.95,817.90 L690.00,817.90 Z" fill="#ff00ff" fill-opacity="0.25"/><path d="M690.00,711.50 L690.27,711.96 L696.68,714.95 L703.09,720.29 L706.29,721.15 L702.02,721.90 L697.75,724.03 L693.48,725.63 L718.04,726.49 L766.00,728.41 L850.00,729.70 L935.00,730.20 L935.00,731.20 L850.00,731.30 L766.00,731.94 L723.38,733.97 L712.70,736.85 L705.23,740.59 L700.95,744.86 L699.35,751.27 L698.82,755.54 L695.61,758.21 L693.48,759.81 L692.41,768.36 L696.68,770.49 L708.43,771.56 L718.04,774.77 L730.86,777.44 L743.68,779.57 L730.86,782.24 L727.66,787.58 L718.04,791.86 L711.63,795.06 L706.29,799.97 L722.63,798.00 L708.42,806.53 L697.05,815.05 L689.95,817.90" fill="none" stroke="#008000" stroke-width="1.9" stroke-linejoin="round"/><path d="M690.00,711.00 L740.00,712.50 L782.00,714.00 L784.00,715.30 L850.00,716.70 L904.50,717.60 L850.00,718.30 L770.00,718.80 L707.36,719.76 L702.02,720.83 L698.82,722.96 L694.54,726.17 L692.94,727.77 L694.54,728.84 L699.89,729.37 L724.45,730.23 L699.89,730.97 L696.68,732.04 L695.61,735.25 L694.01,742.72 L692.41,751.27 L691.34,758.74 L690.81,769.43 L694.54,771.56 L702.02,774.77 L707.36,779.57 L703.09,781.17 L702.02,785.45 L699.89,790.79 L697.75,796.13 L695.61,799.97 L697.05,803.68 L691.37,815.05 L689.95,817.90" fill="none" stroke="#ff00ff" stroke-width="1.9" stroke-linejoin="round"/></g><rect x="691.3" y="707.6" width="236.9" height="34.8" fill="none" stroke="#000" stroke-width="1.6" stroke-dasharray="3.0,4.1"/><line x1="721.6" y1="685" x2="742.6" y2="707.6" stroke="#000" stroke-width="1.6" stroke-dasharray="3.0,4.1"/>
<line x1="98.3" y1="716.91" x2="930.7" y2="716.91" stroke="#000" stroke-width="1.9" stroke-dasharray="7.0,3.6" stroke-dashoffset="-0.8"/>
<line x1="98.30" y1="859.80" x2="102.10" y2="859.80" stroke="#000" stroke-width="1.5" />
<line x1="688.20" y1="859.80" x2="684.40" y2="859.80" stroke="#000" stroke-width="1.5" />
<line x1="98.30" y1="831.22" x2="105.80" y2="831.22" stroke="#000" stroke-width="1.5" />
<line x1="688.20" y1="831.22" x2="680.70" y2="831.22" stroke="#000" stroke-width="1.5" />
<line x1="98.30" y1="802.64" x2="102.10" y2="802.64" stroke="#000" stroke-width="1.5" />
<line x1="688.20" y1="802.64" x2="684.40" y2="802.64" stroke="#000" stroke-width="1.5" />
<line x1="98.30" y1="774.06" x2="102.10" y2="774.06" stroke="#000" stroke-width="1.5" />
<line x1="688.20" y1="774.06" x2="684.40" y2="774.06" stroke="#000" stroke-width="1.5" />
<line x1="98.30" y1="745.49" x2="102.10" y2="745.49" stroke="#000" stroke-width="1.5" />
<line x1="688.20" y1="745.49" x2="684.40" y2="745.49" stroke="#000" stroke-width="1.5" />
<line x1="98.30" y1="716.91" x2="105.80" y2="716.91" stroke="#000" stroke-width="1.5" />
<line x1="688.20" y1="716.91" x2="680.70" y2="716.91" stroke="#000" stroke-width="1.5" />
<line x1="98.30" y1="688.33" x2="102.10" y2="688.33" stroke="#000" stroke-width="1.5" />
<line x1="688.20" y1="688.33" x2="684.40" y2="688.33" stroke="#000" stroke-width="1.5" />
<line x1="98.30" y1="659.75" x2="102.10" y2="659.75" stroke="#000" stroke-width="1.5" />
<line x1="688.20" y1="659.75" x2="684.40" y2="659.75" stroke="#000" stroke-width="1.5" />
<line x1="98.30" y1="631.17" x2="102.10" y2="631.17" stroke="#000" stroke-width="1.5" />
<line x1="688.20" y1="631.17" x2="684.40" y2="631.17" stroke="#000" stroke-width="1.5" />
<line x1="98.30" y1="602.59" x2="105.80" y2="602.59" stroke="#000" stroke-width="1.5" />
<line x1="688.20" y1="602.59" x2="680.70" y2="602.59" stroke="#000" stroke-width="1.5" />
<line x1="98.30" y1="574.01" x2="102.10" y2="574.01" stroke="#000" stroke-width="1.5" />
<line x1="688.20" y1="574.01" x2="684.40" y2="574.01" stroke="#000" stroke-width="1.5" />
<line x1="98.30" y1="545.44" x2="102.10" y2="545.44" stroke="#000" stroke-width="1.5" />
<line x1="688.20" y1="545.44" x2="684.40" y2="545.44" stroke="#000" stroke-width="1.5" />
<line x1="98.30" y1="516.86" x2="102.10" y2="516.86" stroke="#000" stroke-width="1.5" />
<line x1="688.20" y1="516.86" x2="684.40" y2="516.86" stroke="#000" stroke-width="1.5" />
<line x1="98.30" y1="488.28" x2="105.80" y2="488.28" stroke="#000" stroke-width="1.5" />
<line x1="688.20" y1="488.28" x2="680.70" y2="488.28" stroke="#000" stroke-width="1.5" />
<line x1="98.30" y1="459.70" x2="102.10" y2="459.70" stroke="#000" stroke-width="1.5" />
<line x1="688.20" y1="459.70" x2="684.40" y2="459.70" stroke="#000" stroke-width="1.5" />
<rect x="725.2" y="790.2" width="196.8" height="58.8" rx="4" ry="4" fill="#fff" fill-opacity="0.8" stroke="#d0d0d0" stroke-width="1.3"/><line x1="734.9" y1="807.2" x2="760.3" y2="807.2" stroke="#ff00ff" stroke-width="2"/><line x1="734.9" y1="839.3" x2="760.3" y2="839.3" stroke="#008000" stroke-width="2"/><text transform="translate(772.11,811.40) scale(0.2360,0.2360)" font-family="'Liberation Sans', sans-serif" font-weight="normal" font-size="100" fill="#000" >j</text><text transform="translate(777.85,815.52) scale(0.3175,0.2884)" font-family="'Liberation Sans', sans-serif" font-weight="normal" font-size="100" fill="#000" >e</text><text transform="translate(794.24,815.80) scale(0.3923,0.2681)" font-family="'Liberation Sans', sans-serif" font-weight="normal" font-size="100" fill="#000" >ff</text><text transform="translate(817.29,812.20) scale(0.3499,0.2203)" font-family="'Liberation Sans', sans-serif" font-weight="normal" font-size="100" fill="#000" >=</text><text transform="translate(856.60,815.32) scale(0.3095,0.2900)" font-family="'Liberation Sans', sans-serif" font-weight="normal" font-size="100" fill="#000" >/</text><text transform="translate(869.07,811.30) scale(0.3446,0.2234)" font-family="'Liberation Sans', sans-serif" font-weight="normal" font-size="100" fill="#000" >2</text><text transform="translate(772.11,841.40) scale(0.2360,0.2360)" font-family="'Liberation Sans', sans-serif" font-weight="normal" font-size="100" fill="#000" >j</text><text transform="translate(777.85,845.52) scale(0.3175,0.2884)" font-family="'Liberation Sans', sans-serif" font-weight="normal" font-size="100" fill="#000" >e</text><text transform="translate(794.24,845.80) scale(0.3923,0.2681)" font-family="'Liberation Sans', sans-serif" font-weight="normal" font-size="100" fill="#000" >ff</text><text transform="translate(817.29,842.20) scale(0.3499,0.2203)" font-family="'Liberation Sans', sans-serif" font-weight="normal" font-size="100" fill="#000" >=</text><text transform="translate(856.60,845.32) scale(0.3095,0.2900)" font-family="'Liberation Sans', sans-serif" font-weight="normal" font-size="100" fill="#000" >/</text><text transform="translate(869.07,841.30) scale(0.3446,0.2234)" font-family="'Liberation Sans', sans-serif" font-weight="normal" font-size="100" fill="#000" >2</text><text transform="translate(840.26,811.30) scale(0.2806,0.2267)" font-family="'Liberation Sans', sans-serif" font-weight="normal" font-size="100" fill="#000" >1</text><text transform="translate(839.92,841.37) scale(0.2847,0.2316)" font-family="'Liberation Sans', sans-serif" font-weight="normal" font-size="100" fill="#000" >3</text>
<rect x="98.3" y="459.7" width="589.9000000000001" height="400.09999999999997" fill="none" stroke="#000" stroke-width="1.9"/>
<path d="M688.2,459.7 H930.7 V859.8 H688.2" fill="none" stroke="#000" stroke-width="1.9"/>
<rect x="416.0" y="472.9" width="486.6" height="212.0" fill="#fff"/><clipPath id="clipI"><rect x="416.0" y="472.9" width="486.6" height="212.0"/></clipPath><g clip-path="url(#clipI)"><path d="M416.70,476.34 L416.70,476.34 L435.50,481.04 L505.98,486.92 L552.98,489.97 L572.01,492.32 L575.74,492.19 L579.32,494.34 L586.47,500.42 L607.95,504.00 L636.58,505.79 L647.32,507.58 L661.64,509.37 L636.58,510.44 L600.79,513.66 L565.00,515.81 L529.48,520.52 L482.49,523.57 L453.12,526.86 L447.24,533.44 L444.89,540.49 L443.72,547.54 L437.85,554.59 L430.80,563.98 L482.49,566.33 L513.03,569.86 L541.23,575.73 L572.01,579.26 L593.63,580.24 L600.79,581.67 L604.37,584.53 L672.37,586.32 L779.75,588.11 L908.59,588.83 L908.59,589.90 L779.75,590.62 L672.37,591.69 L636.58,592.41 L600.79,595.27 L565.00,599.56 L529.48,605.10 L489.54,610.98 L482.49,616.85 L470.74,629.77 L458.99,648.57 L447.24,665.02 L441.37,681.47 L440.67,684.99 L416.70,684.99 Z" fill="#008000" fill-opacity="0.25"/><path d="M416.70,475.87 L416.70,475.87 L435.50,480.57 L458.99,483.63 L482.49,485.27 L505.98,486.45 L529.48,487.62 L552.98,488.80 L572.01,490.68 L600.79,491.47 L602.58,494.34 L607.95,498.63 L636.58,502.21 L679.53,505.79 L683.11,507.22 L708.16,508.65 L743.95,509.37 L849.54,510.09 L779.75,511.16 L733.22,513.66 L726.06,515.81 L672.37,517.24 L600.79,519.03 L565.00,520.11 L572.01,519.34 L529.48,522.16 L482.49,524.51 L451.94,526.39 L446.07,527.57 L442.55,532.27 L439.02,540.49 L436.67,547.54 L433.15,554.59 L428.45,562.81 L424.92,571.03 L424.92,578.08 L428.45,585.13 L442.55,588.66 L487.19,589.36 L442.55,592.18 L437.85,600.40 L429.62,610.98 L428.45,622.73 L427.27,646.22 L424.92,681.47 L424.45,684.99 L416.70,684.99 Z" fill="#ff00ff" fill-opacity="0.25"/><path d="M416.70,476.34 L435.50,481.04 L505.98,486.92 L552.98,489.97 L572.01,492.32 L575.74,492.19 L579.32,494.34 L586.47,500.42 L607.95,504.00 L636.58,505.79 L647.32,507.58 L661.64,509.37 L636.58,510.44 L600.79,513.66 L565.00,515.81 L529.48,520.52 L482.49,523.57 L453.12,526.86 L447.24,533.44 L444.89,540.49 L443.72,547.54 L437.85,554.59 L430.80,563.98 L482.49,566.33 L513.03,569.86 L541.23,575.73 L572.01,579.26 L593.63,580.24 L600.79,581.67 L604.37,584.53 L672.37,586.32 L779.75,588.11 L908.59,588.83 L908.59,589.90 L779.75,590.62 L672.37,591.69 L636.58,592.41 L600.79,595.27 L565.00,599.56 L529.48,605.10 L489.54,610.98 L482.49,616.85 L470.74,629.77 L458.99,648.57 L447.24,665.02 L441.37,681.47 L440.67,684.99" fill="none" stroke="#008000" stroke-width="1.9" stroke-linejoin="round"/><path d="M416.70,475.87 L435.50,480.57 L458.99,483.63 L482.49,485.27 L505.98,486.45 L529.48,487.62 L552.98,488.80 L572.01,490.68 L600.79,491.47 L602.58,494.34 L607.95,498.63 L636.58,502.21 L679.53,505.79 L683.11,507.22 L708.16,508.65 L743.95,509.37 L849.54,510.09 L779.75,511.16 L733.22,513.66 L726.06,515.81 L672.37,517.24 L600.79,519.03 L565.00,520.11 L572.01,519.34 L529.48,522.16 L482.49,524.51 L451.94,526.39 L446.07,527.57 L442.55,532.27 L439.02,540.49 L436.67,547.54 L433.15,554.59 L428.45,562.81 L424.92,571.03 L424.92,578.08 L428.45,585.13 L442.55,588.66 L487.19,589.36 L442.55,592.18 L437.85,600.40 L429.62,610.98 L428.45,622.73 L427.27,646.22 L424.92,681.47 L424.45,684.99" fill="none" stroke="#ff00ff" stroke-width="1.9" stroke-linejoin="round"/><line x1="416.8" y1="508.2" x2="903" y2="508.2" stroke="#000" stroke-width="1.9" stroke-dasharray="6.7,3.0"/></g><rect x="416.0" y="472.9" width="486.6" height="212.0" fill="none" stroke="#000" stroke-width="1.9"/><line x1="412.2" y1="508.2" x2="416" y2="508.2" stroke="#000" stroke-width="1.5"/><line x1="412.2" y1="684.8" x2="416" y2="684.8" stroke="#000" stroke-width="1.5"/><line x1="415.5" y1="684.9" x2="415.5" y2="688.5" stroke="#000" stroke-width="1.5"/><line x1="537.4" y1="684.9" x2="537.4" y2="688.5" stroke="#000" stroke-width="1.5"/><line x1="659.0" y1="684.9" x2="659.0" y2="688.5" stroke="#000" stroke-width="1.5"/><line x1="780.8" y1="684.9" x2="780.8" y2="688.5" stroke="#000" stroke-width="1.5"/><line x1="902.6" y1="684.9" x2="902.6" y2="688.5" stroke="#000" stroke-width="1.5"/>
<line x1="689.20" y1="859.80" x2="689.20" y2="863.80" stroke="#000" stroke-width="1.5" />
<line x1="749.53" y1="859.80" x2="749.53" y2="863.80" stroke="#000" stroke-width="1.5" />
<line x1="809.85" y1="859.80" x2="809.85" y2="863.80" stroke="#000" stroke-width="1.5" />
<line x1="870.17" y1="859.80" x2="870.17" y2="863.80" stroke="#000" stroke-width="1.5" />
<line x1="930.50" y1="859.80" x2="930.50" y2="863.80" stroke="#000" stroke-width="1.5" />
<text transform="translate(14.68,29.54) scale(0.3151,0.3687)" font-family="'Liberation Sans', sans-serif" font-weight="bold" font-size="100" fill="#000" stroke="#000" stroke-width="2.4" stroke-linejoin="round">a</text>
<text transform="translate(13.14,499.84) scale(0.3433,0.3649)" font-family="'Liberation Sans', sans-serif" font-weight="bold" font-size="100" fill="#000" stroke="#000" stroke-width="2.4" stroke-linejoin="round">b</text>
<text transform="translate(64.22,30.80) scale(0.3413,0.3256)" font-family="'Liberation Sans', sans-serif" font-weight="normal" font-size="100" fill="#000" >4</text>
<text transform="translate(64.89,118.90) scale(0.3402,0.3280)" font-family="'Liberation Sans', sans-serif" font-weight="normal" font-size="100" fill="#000" >2</text>
<text transform="translate(65.54,207.89) scale(0.3222,0.3206)" font-family="'Liberation Sans', sans-serif" font-weight="normal" font-size="100" fill="#000" >0</text>
<text transform="translate(49.74,296.40) scale(0.3846,0.3308)" font-family="'Liberation Sans', sans-serif" font-weight="normal" font-size="100" fill="#000" >-2</text>
<text transform="translate(50.15,385.60) scale(0.3704,0.3256)" font-family="'Liberation Sans', sans-serif" font-weight="normal" font-size="100" fill="#000" >-4</text>
<text transform="translate(63.82,498.30) scale(0.3413,0.3372)" font-family="'Liberation Sans', sans-serif" font-weight="normal" font-size="100" fill="#000" >4</text>
<text transform="translate(65.09,612.80) scale(0.3402,0.3251)" font-family="'Liberation Sans', sans-serif" font-weight="normal" font-size="100" fill="#000" >2</text>
<text transform="translate(65.32,726.28) scale(0.3284,0.3291)" font-family="'Liberation Sans', sans-serif" font-weight="normal" font-size="100" fill="#000" >0</text>
<text transform="translate(50.83,839.50) scale(0.3751,0.3251)" font-family="'Liberation Sans', sans-serif" font-weight="normal" font-size="100" fill="#000" >-2</text>
<text transform="translate(90.12,894.32) scale(0.3266,0.3285)" font-family="'Liberation Sans', sans-serif" font-weight="normal" font-size="100" fill="#000" >Γ</text>
<text transform="translate(218.50,894.00) scale(0.3175,0.3169)" font-family="'Liberation Sans', sans-serif" font-weight="normal" font-size="100" fill="#000" >L</text>
<text transform="translate(501.04,894.02) scale(0.3243,0.3241)" font-family="'Liberation Sans', sans-serif" font-weight="normal" font-size="100" fill="#000" >Γ</text>
<text transform="translate(563.49,894.00) scale(0.3176,0.3241)" font-family="'Liberation Sans', sans-serif" font-weight="normal" font-size="100" fill="#000" >Z</text>
<text transform="translate(680.99,894.60) scale(0.2818,0.3299)" font-family="'Liberation Sans', sans-serif" font-weight="normal" font-size="100" fill="#000" >P</text>
<text transform="translate(738.44,894.76) scale(0.3396,0.3440)" font-family="'Liberation Sans', sans-serif" font-weight="normal" font-size="100" fill="#000" >5</text>
<text transform="translate(789.49,894.57) scale(0.3300,0.3362)" font-family="'Liberation Sans', sans-serif" font-weight="normal" font-size="100" fill="#000" >10</text>
<text transform="translate(849.79,894.57) scale(0.3289,0.3411)" font-family="'Liberation Sans', sans-serif" font-weight="normal" font-size="100" fill="#000" >15</text>
<text transform="translate(911.89,894.57) scale(0.3402,0.3362)" font-family="'Liberation Sans', sans-serif" font-weight="normal" font-size="100" fill="#000" >20</text><text transform="translate(31.70,281.14) rotate(-90) scale(0.3586,0.3779)" font-family="'Liberation Sans', sans-serif" font-weight="normal" font-size="100" fill="#000" >E-E</text>
<text transform="translate(44.80,220.39) rotate(-90) scale(0.3396,0.3721)" font-family="'Liberation Sans', sans-serif" font-weight="normal" font-size="100" fill="#000" >F</text>
<text transform="translate(30.43,186.97) rotate(-90) scale(0.3988,0.3800)" font-family="'Liberation Sans', sans-serif" font-weight="normal" font-size="100" fill="#000" >(eV)</text>
<text transform="translate(31.70,722.34) rotate(-90) scale(0.3586,0.3779)" font-family="'Liberation Sans', sans-serif" font-weight="normal" font-size="100" fill="#000" >E-E</text>
<text transform="translate(44.80,661.59) rotate(-90) scale(0.3396,0.3721)" font-family="'Liberation Sans', sans-serif" font-weight="normal" font-size="100" fill="#000" >F</text>
<text transform="translate(30.43,628.17) rotate(-90) scale(0.3988,0.3800)" font-family="'Liberation Sans', sans-serif" font-weight="normal" font-size="100" fill="#000" >(eV)</text>
<text transform="translate(293.69,892.40) scale(0.3420,0.3387)" font-family="'Liberation Sans', sans-serif" font-weight="normal" font-size="100" fill="#000" >B</text>
<text transform="translate(316.09,898.70) scale(0.2111,0.2195)" font-family="'Liberation Sans', sans-serif" font-weight="normal" font-size="100" fill="#000" >1</text>
<text transform="translate(362.48,892.40) scale(0.2950,0.3387)" font-family="'Liberation Sans', sans-serif" font-weight="normal" font-size="100" fill="#000" >P</text>
<text transform="translate(382.22,898.70) scale(0.1948,0.2195)" font-family="'Liberation Sans', sans-serif" font-weight="normal" font-size="100" fill="#000" >1</text>
<text transform="translate(689.95,924.49) scale(0.3477,0.3145)" font-family="'Liberation Sans', sans-serif" font-weight="normal" font-size="100" fill="#000" >DOS (states/eV)</text>
</svg>
</body></html>
